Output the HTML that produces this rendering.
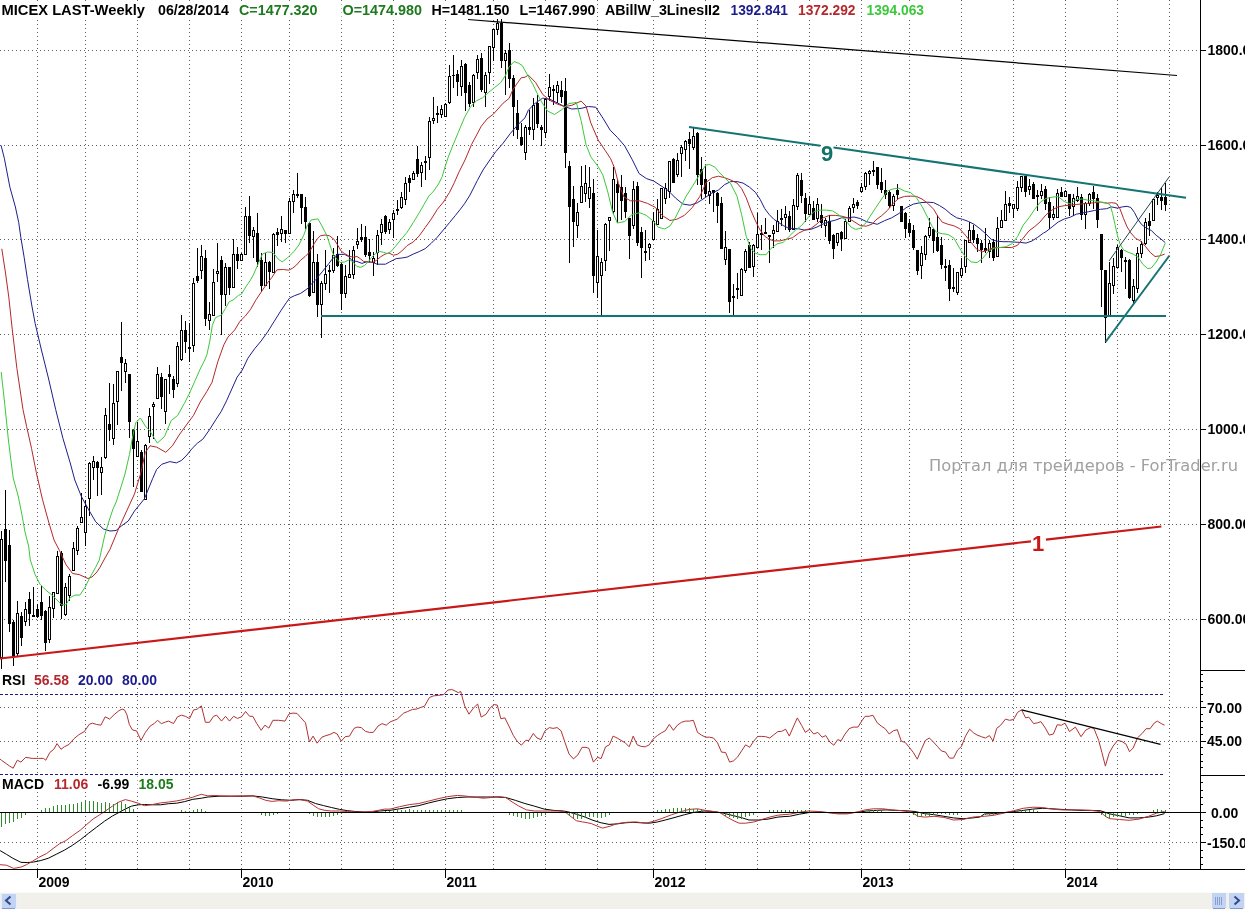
<!DOCTYPE html>
<html><head><meta charset="utf-8"><title>MICEX LAST-Weekly</title>
<style>html,body{margin:0;padding:0;background:#fff;overflow:hidden}body{width:1245px;height:909px}</style>
</head><body>
<svg width="1245" height="909" viewBox="0 0 1245 909" style="display:block">
<rect x="0" y="0" width="1245" height="909" fill="#ffffff"/>
<g shape-rendering="crispEdges">
<line x1="37.5" y1="0" x2="37.5" y2="869" stroke="#5f5f5f" stroke-width="1" stroke-dasharray="1 3"/>
<line x1="85.5" y1="0" x2="85.5" y2="869" stroke="#5f5f5f" stroke-width="1" stroke-dasharray="1 3"/>
<line x1="137.5" y1="0" x2="137.5" y2="869" stroke="#5f5f5f" stroke-width="1" stroke-dasharray="1 3"/>
<line x1="189.5" y1="0" x2="189.5" y2="869" stroke="#5f5f5f" stroke-width="1" stroke-dasharray="1 3"/>
<line x1="241.5" y1="0" x2="241.5" y2="869" stroke="#5f5f5f" stroke-width="1" stroke-dasharray="1 3"/>
<line x1="289.5" y1="0" x2="289.5" y2="869" stroke="#5f5f5f" stroke-width="1" stroke-dasharray="1 3"/>
<line x1="341.5" y1="0" x2="341.5" y2="869" stroke="#5f5f5f" stroke-width="1" stroke-dasharray="1 3"/>
<line x1="393.5" y1="0" x2="393.5" y2="869" stroke="#5f5f5f" stroke-width="1" stroke-dasharray="1 3"/>
<line x1="445.5" y1="0" x2="445.5" y2="869" stroke="#5f5f5f" stroke-width="1" stroke-dasharray="1 3"/>
<line x1="493.5" y1="0" x2="493.5" y2="869" stroke="#5f5f5f" stroke-width="1" stroke-dasharray="1 3"/>
<line x1="545.5" y1="0" x2="545.5" y2="869" stroke="#5f5f5f" stroke-width="1" stroke-dasharray="1 3"/>
<line x1="597.5" y1="0" x2="597.5" y2="869" stroke="#5f5f5f" stroke-width="1" stroke-dasharray="1 3"/>
<line x1="653.5" y1="0" x2="653.5" y2="869" stroke="#5f5f5f" stroke-width="1" stroke-dasharray="1 3"/>
<line x1="705.5" y1="0" x2="705.5" y2="869" stroke="#5f5f5f" stroke-width="1" stroke-dasharray="1 3"/>
<line x1="757.5" y1="0" x2="757.5" y2="869" stroke="#5f5f5f" stroke-width="1" stroke-dasharray="1 3"/>
<line x1="809.5" y1="0" x2="809.5" y2="869" stroke="#5f5f5f" stroke-width="1" stroke-dasharray="1 3"/>
<line x1="861.5" y1="0" x2="861.5" y2="869" stroke="#5f5f5f" stroke-width="1" stroke-dasharray="1 3"/>
<line x1="909.5" y1="0" x2="909.5" y2="869" stroke="#5f5f5f" stroke-width="1" stroke-dasharray="1 3"/>
<line x1="961.5" y1="0" x2="961.5" y2="869" stroke="#5f5f5f" stroke-width="1" stroke-dasharray="1 3"/>
<line x1="1013.5" y1="0" x2="1013.5" y2="869" stroke="#5f5f5f" stroke-width="1" stroke-dasharray="1 3"/>
<line x1="1065.5" y1="0" x2="1065.5" y2="869" stroke="#5f5f5f" stroke-width="1" stroke-dasharray="1 3"/>
<line x1="1117.5" y1="0" x2="1117.5" y2="869" stroke="#5f5f5f" stroke-width="1" stroke-dasharray="1 3"/>
<line x1="1169.5" y1="0" x2="1169.5" y2="869" stroke="#5f5f5f" stroke-width="1" stroke-dasharray="1 3"/>
<line x1="0" y1="50.5" x2="1200" y2="50.5" stroke="#5f5f5f" stroke-width="1" stroke-dasharray="1 3"/>
<line x1="0" y1="145.5" x2="1200" y2="145.5" stroke="#5f5f5f" stroke-width="1" stroke-dasharray="1 3"/>
<line x1="0" y1="239.5" x2="1200" y2="239.5" stroke="#5f5f5f" stroke-width="1" stroke-dasharray="1 3"/>
<line x1="0" y1="334.5" x2="1200" y2="334.5" stroke="#5f5f5f" stroke-width="1" stroke-dasharray="1 3"/>
<line x1="0" y1="429.5" x2="1200" y2="429.5" stroke="#5f5f5f" stroke-width="1" stroke-dasharray="1 3"/>
<line x1="0" y1="524.5" x2="1200" y2="524.5" stroke="#5f5f5f" stroke-width="1" stroke-dasharray="1 3"/>
<line x1="0" y1="619.5" x2="1200" y2="619.5" stroke="#5f5f5f" stroke-width="1" stroke-dasharray="1 3"/>
<line x1="0" y1="707.5" x2="1200" y2="707.5" stroke="#5f5f5f" stroke-width="1" stroke-dasharray="1 3"/>
<line x1="0" y1="741.5" x2="1200" y2="741.5" stroke="#5f5f5f" stroke-width="1" stroke-dasharray="1 3"/>
<line x1="0" y1="842.5" x2="1200" y2="842.5" stroke="#5f5f5f" stroke-width="1" stroke-dasharray="1 3"/>
<line x1="0" y1="694.5" x2="1164" y2="694.5" stroke="#1a1a80" stroke-width="1" stroke-dasharray="3 2"/>
<line x1="0" y1="774.5" x2="1164" y2="774.5" stroke="#1a1a80" stroke-width="1" stroke-dasharray="3 2"/>
</g>
<g shape-rendering="crispEdges" fill="#000">
<rect x="1" y="531" width="1" height="8"/>
<rect x="1" y="658" width="1" height="11"/>
<rect x="0" y="539" width="3" height="119"/>
<rect x="1" y="540" width="1" height="117" fill="#fff"/>
<rect x="5" y="490" width="1" height="92"/>
<rect x="4" y="529" width="3" height="32"/>
<rect x="9" y="530" width="1" height="102"/>
<rect x="8" y="545" width="3" height="79"/>
<rect x="13" y="620" width="1" height="46"/>
<rect x="12" y="622" width="3" height="35"/>
<rect x="17" y="601" width="1" height="12"/>
<rect x="17" y="654" width="1" height="3"/>
<rect x="16" y="613" width="3" height="41"/>
<rect x="17" y="614" width="1" height="39" fill="#fff"/>
<rect x="21" y="612" width="1" height="34"/>
<rect x="20" y="616" width="3" height="22"/>
<rect x="25" y="602" width="1" height="7"/>
<rect x="25" y="622" width="1" height="4"/>
<rect x="24" y="609" width="3" height="13"/>
<rect x="25" y="610" width="1" height="11" fill="#fff"/>
<rect x="29" y="592" width="1" height="34"/>
<rect x="28" y="599" width="3" height="15"/>
<rect x="33" y="587" width="1" height="30"/>
<rect x="32" y="615" width="3" height="2"/>
<rect x="37" y="604" width="1" height="14"/>
<rect x="36" y="609" width="3" height="8"/>
<rect x="41" y="586" width="1" height="34"/>
<rect x="40" y="602" width="3" height="14"/>
<rect x="45" y="610" width="1" height="41"/>
<rect x="44" y="611" width="3" height="32"/>
<rect x="49" y="596" width="1" height="11"/>
<rect x="49" y="640" width="1" height="3"/>
<rect x="48" y="607" width="3" height="33"/>
<rect x="49" y="608" width="1" height="31" fill="#fff"/>
<rect x="53" y="609" width="1" height="9"/>
<rect x="52" y="592" width="3" height="17"/>
<rect x="53" y="593" width="1" height="15" fill="#fff"/>
<rect x="57" y="551" width="1" height="5"/>
<rect x="56" y="556" width="3" height="38"/>
<rect x="57" y="557" width="1" height="36" fill="#fff"/>
<rect x="61" y="551" width="1" height="68"/>
<rect x="60" y="553" width="3" height="53"/>
<rect x="65" y="583" width="1" height="4"/>
<rect x="65" y="615" width="1" height="1"/>
<rect x="64" y="587" width="3" height="28"/>
<rect x="65" y="588" width="1" height="26" fill="#fff"/>
<rect x="69" y="574" width="1" height="2"/>
<rect x="69" y="596" width="1" height="5"/>
<rect x="68" y="576" width="3" height="20"/>
<rect x="69" y="577" width="1" height="18" fill="#fff"/>
<rect x="73" y="542" width="1" height="6"/>
<rect x="72" y="548" width="3" height="23"/>
<rect x="73" y="549" width="1" height="21" fill="#fff"/>
<rect x="77" y="526" width="1" height="2"/>
<rect x="77" y="551" width="1" height="4"/>
<rect x="76" y="528" width="3" height="23"/>
<rect x="77" y="529" width="1" height="21" fill="#fff"/>
<rect x="81" y="493" width="1" height="24"/>
<rect x="80" y="517" width="3" height="6"/>
<rect x="81" y="518" width="1" height="4" fill="#fff"/>
<rect x="85" y="500" width="1" height="6"/>
<rect x="85" y="533" width="1" height="13"/>
<rect x="84" y="506" width="3" height="27"/>
<rect x="85" y="507" width="1" height="25" fill="#fff"/>
<rect x="89" y="462" width="1" height="1"/>
<rect x="89" y="499" width="1" height="17"/>
<rect x="88" y="463" width="3" height="36"/>
<rect x="89" y="464" width="1" height="34" fill="#fff"/>
<rect x="93" y="456" width="1" height="5"/>
<rect x="93" y="468" width="1" height="12"/>
<rect x="92" y="461" width="3" height="7"/>
<rect x="93" y="462" width="1" height="5" fill="#fff"/>
<rect x="97" y="461" width="1" height="35"/>
<rect x="96" y="462" width="3" height="6"/>
<rect x="101" y="457" width="1" height="10"/>
<rect x="101" y="473" width="1" height="22"/>
<rect x="100" y="467" width="3" height="6"/>
<rect x="101" y="468" width="1" height="4" fill="#fff"/>
<rect x="105" y="408" width="1" height="7"/>
<rect x="105" y="458" width="1" height="1"/>
<rect x="104" y="415" width="3" height="43"/>
<rect x="105" y="416" width="1" height="41" fill="#fff"/>
<rect x="109" y="383" width="1" height="58"/>
<rect x="108" y="424" width="3" height="6"/>
<rect x="113" y="384" width="1" height="19"/>
<rect x="113" y="439" width="1" height="6"/>
<rect x="112" y="403" width="3" height="36"/>
<rect x="113" y="404" width="1" height="34" fill="#fff"/>
<rect x="117" y="402" width="1" height="23"/>
<rect x="116" y="371" width="3" height="31"/>
<rect x="117" y="372" width="1" height="29" fill="#fff"/>
<rect x="121" y="322" width="1" height="69"/>
<rect x="120" y="357" width="3" height="6"/>
<rect x="125" y="359" width="1" height="4"/>
<rect x="125" y="372" width="1" height="11"/>
<rect x="124" y="363" width="3" height="9"/>
<rect x="125" y="364" width="1" height="7" fill="#fff"/>
<rect x="129" y="374" width="1" height="64"/>
<rect x="128" y="374" width="3" height="48"/>
<rect x="133" y="429" width="1" height="58"/>
<rect x="132" y="430" width="3" height="19"/>
<rect x="137" y="422" width="1" height="19"/>
<rect x="136" y="441" width="3" height="16"/>
<rect x="137" y="442" width="1" height="14" fill="#fff"/>
<rect x="141" y="450" width="1" height="42"/>
<rect x="140" y="452" width="3" height="40"/>
<rect x="145" y="444" width="1" height="1"/>
<rect x="144" y="445" width="3" height="55"/>
<rect x="145" y="446" width="1" height="53" fill="#fff"/>
<rect x="149" y="408" width="1" height="8"/>
<rect x="149" y="437" width="1" height="6"/>
<rect x="148" y="416" width="3" height="21"/>
<rect x="149" y="417" width="1" height="19" fill="#fff"/>
<rect x="153" y="402" width="1" height="2"/>
<rect x="153" y="407" width="1" height="32"/>
<rect x="152" y="404" width="3" height="3"/>
<rect x="153" y="405" width="1" height="1" fill="#fff"/>
<rect x="157" y="367" width="1" height="7"/>
<rect x="156" y="374" width="3" height="25"/>
<rect x="157" y="375" width="1" height="23" fill="#fff"/>
<rect x="161" y="373" width="1" height="36"/>
<rect x="160" y="377" width="3" height="20"/>
<rect x="165" y="412" width="1" height="12"/>
<rect x="164" y="379" width="3" height="33"/>
<rect x="165" y="380" width="1" height="31" fill="#fff"/>
<rect x="169" y="365" width="1" height="29"/>
<rect x="168" y="374" width="3" height="3"/>
<rect x="173" y="376" width="1" height="22"/>
<rect x="172" y="379" width="3" height="11"/>
<rect x="177" y="342" width="1" height="4"/>
<rect x="177" y="384" width="1" height="3"/>
<rect x="176" y="346" width="3" height="38"/>
<rect x="177" y="347" width="1" height="36" fill="#fff"/>
<rect x="181" y="315" width="1" height="15"/>
<rect x="181" y="360" width="1" height="1"/>
<rect x="180" y="330" width="3" height="30"/>
<rect x="181" y="331" width="1" height="28" fill="#fff"/>
<rect x="185" y="321" width="1" height="32"/>
<rect x="184" y="330" width="3" height="12"/>
<rect x="189" y="323" width="1" height="39"/>
<rect x="188" y="347" width="3" height="2"/>
<rect x="193" y="278" width="1" height="5"/>
<rect x="193" y="346" width="1" height="6"/>
<rect x="192" y="283" width="3" height="63"/>
<rect x="193" y="284" width="1" height="61" fill="#fff"/>
<rect x="197" y="248" width="1" height="35"/>
<rect x="196" y="276" width="3" height="5"/>
<rect x="201" y="245" width="1" height="11"/>
<rect x="201" y="271" width="1" height="8"/>
<rect x="200" y="256" width="3" height="15"/>
<rect x="201" y="257" width="1" height="13" fill="#fff"/>
<rect x="205" y="250" width="1" height="76"/>
<rect x="204" y="258" width="3" height="61"/>
<rect x="209" y="302" width="1" height="12"/>
<rect x="209" y="321" width="1" height="9"/>
<rect x="208" y="314" width="3" height="7"/>
<rect x="209" y="315" width="1" height="5" fill="#fff"/>
<rect x="213" y="269" width="1" height="13"/>
<rect x="212" y="282" width="3" height="34"/>
<rect x="213" y="283" width="1" height="32" fill="#fff"/>
<rect x="217" y="243" width="1" height="28"/>
<rect x="217" y="274" width="1" height="8"/>
<rect x="216" y="271" width="3" height="3"/>
<rect x="217" y="272" width="1" height="1" fill="#fff"/>
<rect x="221" y="256" width="1" height="79"/>
<rect x="220" y="260" width="3" height="35"/>
<rect x="225" y="263" width="1" height="4"/>
<rect x="225" y="295" width="1" height="11"/>
<rect x="224" y="267" width="3" height="28"/>
<rect x="225" y="268" width="1" height="26" fill="#fff"/>
<rect x="229" y="267" width="1" height="28"/>
<rect x="228" y="267" width="3" height="21"/>
<rect x="233" y="239" width="1" height="15"/>
<rect x="232" y="254" width="3" height="34"/>
<rect x="233" y="255" width="1" height="32" fill="#fff"/>
<rect x="237" y="247" width="1" height="22"/>
<rect x="236" y="254" width="3" height="7"/>
<rect x="241" y="253" width="1" height="1"/>
<rect x="240" y="254" width="3" height="7"/>
<rect x="241" y="255" width="1" height="5" fill="#fff"/>
<rect x="245" y="207" width="1" height="9"/>
<rect x="244" y="216" width="3" height="39"/>
<rect x="245" y="217" width="1" height="37" fill="#fff"/>
<rect x="249" y="196" width="1" height="47"/>
<rect x="248" y="216" width="3" height="20"/>
<rect x="253" y="227" width="1" height="3"/>
<rect x="253" y="237" width="1" height="21"/>
<rect x="252" y="230" width="3" height="7"/>
<rect x="253" y="231" width="1" height="5" fill="#fff"/>
<rect x="257" y="213" width="1" height="54"/>
<rect x="256" y="233" width="3" height="29"/>
<rect x="261" y="253" width="1" height="39"/>
<rect x="260" y="260" width="3" height="26"/>
<rect x="265" y="253" width="1" height="9"/>
<rect x="264" y="262" width="3" height="24"/>
<rect x="265" y="263" width="1" height="22" fill="#fff"/>
<rect x="269" y="261" width="1" height="28"/>
<rect x="268" y="262" width="3" height="10"/>
<rect x="273" y="233" width="1" height="1"/>
<rect x="272" y="234" width="3" height="39"/>
<rect x="273" y="235" width="1" height="37" fill="#fff"/>
<rect x="277" y="228" width="1" height="18"/>
<rect x="276" y="232" width="3" height="3"/>
<rect x="281" y="216" width="1" height="13"/>
<rect x="281" y="234" width="1" height="8"/>
<rect x="280" y="229" width="3" height="5"/>
<rect x="281" y="230" width="1" height="3" fill="#fff"/>
<rect x="285" y="230" width="1" height="13"/>
<rect x="284" y="230" width="3" height="4"/>
<rect x="289" y="198" width="1" height="3"/>
<rect x="288" y="201" width="3" height="33"/>
<rect x="289" y="202" width="1" height="31" fill="#fff"/>
<rect x="293" y="190" width="1" height="4"/>
<rect x="293" y="202" width="1" height="11"/>
<rect x="292" y="194" width="3" height="8"/>
<rect x="293" y="195" width="1" height="6" fill="#fff"/>
<rect x="297" y="173" width="1" height="25"/>
<rect x="296" y="194" width="3" height="2"/>
<rect x="301" y="194" width="1" height="30"/>
<rect x="300" y="194" width="3" height="14"/>
<rect x="305" y="197" width="1" height="32"/>
<rect x="304" y="207" width="3" height="15"/>
<rect x="309" y="222" width="1" height="75"/>
<rect x="308" y="223" width="3" height="73"/>
<rect x="313" y="231" width="1" height="31"/>
<rect x="312" y="262" width="3" height="31"/>
<rect x="313" y="263" width="1" height="29" fill="#fff"/>
<rect x="317" y="254" width="1" height="63"/>
<rect x="316" y="262" width="3" height="43"/>
<rect x="321" y="281" width="1" height="2"/>
<rect x="321" y="305" width="1" height="33"/>
<rect x="320" y="283" width="3" height="22"/>
<rect x="321" y="284" width="1" height="20" fill="#fff"/>
<rect x="325" y="250" width="1" height="24"/>
<rect x="325" y="284" width="1" height="6"/>
<rect x="324" y="274" width="3" height="10"/>
<rect x="325" y="275" width="1" height="8" fill="#fff"/>
<rect x="329" y="265" width="1" height="28"/>
<rect x="328" y="270" width="3" height="2"/>
<rect x="333" y="248" width="1" height="7"/>
<rect x="333" y="271" width="1" height="2"/>
<rect x="332" y="255" width="3" height="16"/>
<rect x="333" y="256" width="1" height="14" fill="#fff"/>
<rect x="337" y="236" width="1" height="31"/>
<rect x="336" y="254" width="3" height="12"/>
<rect x="341" y="262" width="1" height="48"/>
<rect x="340" y="264" width="3" height="30"/>
<rect x="345" y="265" width="1" height="11"/>
<rect x="345" y="294" width="1" height="4"/>
<rect x="344" y="276" width="3" height="18"/>
<rect x="345" y="277" width="1" height="16" fill="#fff"/>
<rect x="349" y="250" width="1" height="24"/>
<rect x="348" y="274" width="3" height="4"/>
<rect x="349" y="275" width="1" height="2" fill="#fff"/>
<rect x="353" y="246" width="1" height="4"/>
<rect x="353" y="275" width="1" height="4"/>
<rect x="352" y="250" width="3" height="25"/>
<rect x="353" y="251" width="1" height="23" fill="#fff"/>
<rect x="357" y="228" width="1" height="13"/>
<rect x="357" y="245" width="1" height="4"/>
<rect x="356" y="241" width="3" height="4"/>
<rect x="357" y="242" width="1" height="2" fill="#fff"/>
<rect x="361" y="224" width="1" height="18"/>
<rect x="360" y="237" width="3" height="3"/>
<rect x="365" y="226" width="1" height="31"/>
<rect x="364" y="237" width="3" height="18"/>
<rect x="369" y="239" width="1" height="23"/>
<rect x="368" y="252" width="3" height="4"/>
<rect x="373" y="252" width="1" height="6"/>
<rect x="373" y="263" width="1" height="13"/>
<rect x="372" y="258" width="3" height="5"/>
<rect x="373" y="259" width="1" height="3" fill="#fff"/>
<rect x="377" y="230" width="1" height="5"/>
<rect x="377" y="253" width="1" height="12"/>
<rect x="376" y="235" width="3" height="18"/>
<rect x="377" y="236" width="1" height="16" fill="#fff"/>
<rect x="381" y="219" width="1" height="5"/>
<rect x="381" y="233" width="1" height="12"/>
<rect x="380" y="224" width="3" height="9"/>
<rect x="381" y="225" width="1" height="7" fill="#fff"/>
<rect x="385" y="215" width="1" height="19"/>
<rect x="384" y="216" width="3" height="16"/>
<rect x="389" y="219" width="1" height="3"/>
<rect x="389" y="230" width="1" height="4"/>
<rect x="388" y="222" width="3" height="8"/>
<rect x="389" y="223" width="1" height="6" fill="#fff"/>
<rect x="393" y="210" width="1" height="3"/>
<rect x="393" y="220" width="1" height="18"/>
<rect x="392" y="213" width="3" height="7"/>
<rect x="393" y="214" width="1" height="5" fill="#fff"/>
<rect x="397" y="200" width="1" height="15"/>
<rect x="396" y="209" width="3" height="2"/>
<rect x="401" y="192" width="1" height="5"/>
<rect x="401" y="208" width="1" height="1"/>
<rect x="400" y="197" width="3" height="11"/>
<rect x="401" y="198" width="1" height="9" fill="#fff"/>
<rect x="405" y="177" width="1" height="6"/>
<rect x="405" y="200" width="1" height="5"/>
<rect x="404" y="183" width="3" height="17"/>
<rect x="405" y="184" width="1" height="15" fill="#fff"/>
<rect x="409" y="175" width="1" height="17"/>
<rect x="408" y="178" width="3" height="5"/>
<rect x="413" y="171" width="1" height="2"/>
<rect x="412" y="173" width="3" height="7"/>
<rect x="413" y="174" width="1" height="5" fill="#fff"/>
<rect x="417" y="146" width="1" height="31"/>
<rect x="416" y="159" width="3" height="15"/>
<rect x="421" y="162" width="1" height="3"/>
<rect x="421" y="173" width="1" height="14"/>
<rect x="420" y="165" width="3" height="8"/>
<rect x="421" y="166" width="1" height="6" fill="#fff"/>
<rect x="425" y="156" width="1" height="24"/>
<rect x="424" y="161" width="3" height="2"/>
<rect x="429" y="117" width="1" height="4"/>
<rect x="429" y="158" width="1" height="12"/>
<rect x="428" y="121" width="3" height="37"/>
<rect x="429" y="122" width="1" height="35" fill="#fff"/>
<rect x="433" y="97" width="1" height="21"/>
<rect x="433" y="121" width="1" height="3"/>
<rect x="432" y="118" width="3" height="3"/>
<rect x="433" y="119" width="1" height="1" fill="#fff"/>
<rect x="437" y="106" width="1" height="17"/>
<rect x="436" y="113" width="3" height="2"/>
<rect x="441" y="105" width="1" height="4"/>
<rect x="441" y="115" width="1" height="3"/>
<rect x="440" y="109" width="3" height="6"/>
<rect x="441" y="110" width="1" height="4" fill="#fff"/>
<rect x="445" y="103" width="1" height="1"/>
<rect x="444" y="104" width="3" height="13"/>
<rect x="445" y="105" width="1" height="11" fill="#fff"/>
<rect x="449" y="65" width="1" height="11"/>
<rect x="449" y="103" width="1" height="1"/>
<rect x="448" y="76" width="3" height="27"/>
<rect x="449" y="77" width="1" height="25" fill="#fff"/>
<rect x="453" y="55" width="1" height="33"/>
<rect x="452" y="75" width="3" height="1"/>
<rect x="457" y="70" width="1" height="26"/>
<rect x="456" y="74" width="3" height="8"/>
<rect x="461" y="60" width="1" height="6"/>
<rect x="461" y="87" width="1" height="9"/>
<rect x="460" y="66" width="3" height="21"/>
<rect x="461" y="67" width="1" height="19" fill="#fff"/>
<rect x="465" y="63" width="1" height="48"/>
<rect x="464" y="64" width="3" height="29"/>
<rect x="469" y="82" width="1" height="25"/>
<rect x="468" y="85" width="3" height="19"/>
<rect x="473" y="74" width="1" height="1"/>
<rect x="473" y="103" width="1" height="4"/>
<rect x="472" y="75" width="3" height="28"/>
<rect x="473" y="76" width="1" height="26" fill="#fff"/>
<rect x="477" y="55" width="1" height="4"/>
<rect x="477" y="73" width="1" height="6"/>
<rect x="476" y="59" width="3" height="14"/>
<rect x="477" y="60" width="1" height="12" fill="#fff"/>
<rect x="481" y="53" width="1" height="39"/>
<rect x="480" y="58" width="3" height="32"/>
<rect x="485" y="72" width="1" height="3"/>
<rect x="485" y="93" width="1" height="14"/>
<rect x="484" y="75" width="3" height="18"/>
<rect x="485" y="76" width="1" height="16" fill="#fff"/>
<rect x="489" y="73" width="1" height="11"/>
<rect x="488" y="46" width="3" height="27"/>
<rect x="489" y="47" width="1" height="25" fill="#fff"/>
<rect x="493" y="48" width="1" height="13"/>
<rect x="492" y="29" width="3" height="19"/>
<rect x="493" y="30" width="1" height="17" fill="#fff"/>
<rect x="497" y="19" width="1" height="4"/>
<rect x="497" y="30" width="1" height="5"/>
<rect x="496" y="23" width="3" height="7"/>
<rect x="497" y="24" width="1" height="5" fill="#fff"/>
<rect x="501" y="19" width="1" height="49"/>
<rect x="500" y="23" width="3" height="38"/>
<rect x="505" y="50" width="1" height="3"/>
<rect x="505" y="61" width="1" height="34"/>
<rect x="504" y="53" width="3" height="8"/>
<rect x="505" y="54" width="1" height="6" fill="#fff"/>
<rect x="509" y="43" width="1" height="45"/>
<rect x="508" y="50" width="3" height="29"/>
<rect x="513" y="75" width="1" height="61"/>
<rect x="512" y="78" width="3" height="29"/>
<rect x="517" y="100" width="1" height="39"/>
<rect x="516" y="113" width="3" height="17"/>
<rect x="521" y="123" width="1" height="23"/>
<rect x="520" y="137" width="3" height="8"/>
<rect x="525" y="125" width="1" height="2"/>
<rect x="525" y="153" width="1" height="7"/>
<rect x="524" y="127" width="3" height="26"/>
<rect x="525" y="128" width="1" height="24" fill="#fff"/>
<rect x="529" y="110" width="1" height="25"/>
<rect x="528" y="127" width="3" height="3"/>
<rect x="533" y="98" width="1" height="7"/>
<rect x="533" y="130" width="1" height="10"/>
<rect x="532" y="105" width="3" height="25"/>
<rect x="533" y="106" width="1" height="23" fill="#fff"/>
<rect x="537" y="95" width="1" height="33"/>
<rect x="536" y="103" width="3" height="21"/>
<rect x="541" y="125" width="1" height="21"/>
<rect x="540" y="127" width="3" height="3"/>
<rect x="545" y="98" width="1" height="1"/>
<rect x="545" y="133" width="1" height="5"/>
<rect x="544" y="99" width="3" height="34"/>
<rect x="545" y="100" width="1" height="32" fill="#fff"/>
<rect x="549" y="74" width="1" height="13"/>
<rect x="549" y="97" width="1" height="4"/>
<rect x="548" y="87" width="3" height="10"/>
<rect x="549" y="88" width="1" height="8" fill="#fff"/>
<rect x="553" y="85" width="1" height="20"/>
<rect x="552" y="89" width="3" height="2"/>
<rect x="557" y="81" width="1" height="4"/>
<rect x="557" y="93" width="1" height="10"/>
<rect x="556" y="85" width="3" height="8"/>
<rect x="557" y="86" width="1" height="6" fill="#fff"/>
<rect x="561" y="81" width="1" height="22"/>
<rect x="560" y="90" width="3" height="7"/>
<rect x="565" y="78" width="1" height="90"/>
<rect x="564" y="91" width="3" height="62"/>
<rect x="569" y="161" width="1" height="102"/>
<rect x="568" y="166" width="3" height="41"/>
<rect x="573" y="186" width="1" height="61"/>
<rect x="572" y="199" width="3" height="23"/>
<rect x="577" y="203" width="1" height="9"/>
<rect x="577" y="226" width="1" height="12"/>
<rect x="576" y="212" width="3" height="14"/>
<rect x="577" y="213" width="1" height="12" fill="#fff"/>
<rect x="581" y="166" width="1" height="20"/>
<rect x="580" y="186" width="3" height="17"/>
<rect x="581" y="187" width="1" height="15" fill="#fff"/>
<rect x="585" y="165" width="1" height="18"/>
<rect x="585" y="194" width="1" height="8"/>
<rect x="584" y="183" width="3" height="11"/>
<rect x="585" y="184" width="1" height="9" fill="#fff"/>
<rect x="589" y="167" width="1" height="20"/>
<rect x="589" y="199" width="1" height="9"/>
<rect x="588" y="187" width="3" height="12"/>
<rect x="589" y="188" width="1" height="10" fill="#fff"/>
<rect x="593" y="179" width="1" height="114"/>
<rect x="592" y="193" width="3" height="83"/>
<rect x="597" y="230" width="1" height="26"/>
<rect x="597" y="283" width="1" height="15"/>
<rect x="596" y="256" width="3" height="27"/>
<rect x="597" y="257" width="1" height="25" fill="#fff"/>
<rect x="601" y="258" width="1" height="4"/>
<rect x="601" y="276" width="1" height="41"/>
<rect x="600" y="262" width="3" height="14"/>
<rect x="601" y="263" width="1" height="12" fill="#fff"/>
<rect x="605" y="223" width="1" height="1"/>
<rect x="605" y="261" width="1" height="10"/>
<rect x="604" y="224" width="3" height="37"/>
<rect x="605" y="225" width="1" height="35" fill="#fff"/>
<rect x="609" y="221" width="1" height="30"/>
<rect x="608" y="217" width="3" height="4"/>
<rect x="609" y="218" width="1" height="2" fill="#fff"/>
<rect x="613" y="167" width="1" height="12"/>
<rect x="613" y="212" width="1" height="2"/>
<rect x="612" y="179" width="3" height="33"/>
<rect x="613" y="180" width="1" height="31" fill="#fff"/>
<rect x="617" y="180" width="1" height="43"/>
<rect x="616" y="184" width="3" height="9"/>
<rect x="621" y="175" width="1" height="45"/>
<rect x="620" y="187" width="3" height="14"/>
<rect x="625" y="187" width="1" height="31"/>
<rect x="624" y="193" width="3" height="19"/>
<rect x="629" y="218" width="1" height="41"/>
<rect x="628" y="218" width="3" height="18"/>
<rect x="633" y="181" width="1" height="8"/>
<rect x="633" y="226" width="1" height="3"/>
<rect x="632" y="189" width="3" height="37"/>
<rect x="633" y="190" width="1" height="35" fill="#fff"/>
<rect x="637" y="182" width="1" height="64"/>
<rect x="636" y="186" width="3" height="57"/>
<rect x="641" y="227" width="1" height="51"/>
<rect x="640" y="232" width="3" height="16"/>
<rect x="645" y="230" width="1" height="31"/>
<rect x="644" y="251" width="3" height="2"/>
<rect x="649" y="243" width="1" height="1"/>
<rect x="649" y="248" width="1" height="12"/>
<rect x="648" y="244" width="3" height="4"/>
<rect x="649" y="245" width="1" height="2" fill="#fff"/>
<rect x="653" y="212" width="1" height="9"/>
<rect x="652" y="221" width="3" height="19"/>
<rect x="653" y="222" width="1" height="17" fill="#fff"/>
<rect x="657" y="199" width="1" height="10"/>
<rect x="656" y="209" width="3" height="16"/>
<rect x="657" y="210" width="1" height="14" fill="#fff"/>
<rect x="660" y="188" width="3" height="31"/>
<rect x="661" y="189" width="1" height="29" fill="#fff"/>
<rect x="665" y="183" width="1" height="5"/>
<rect x="665" y="199" width="1" height="5"/>
<rect x="664" y="188" width="3" height="11"/>
<rect x="665" y="189" width="1" height="9" fill="#fff"/>
<rect x="669" y="192" width="1" height="6"/>
<rect x="668" y="161" width="3" height="31"/>
<rect x="669" y="162" width="1" height="29" fill="#fff"/>
<rect x="673" y="158" width="1" height="25"/>
<rect x="672" y="159" width="3" height="24"/>
<rect x="677" y="153" width="1" height="7"/>
<rect x="677" y="175" width="1" height="2"/>
<rect x="676" y="160" width="3" height="15"/>
<rect x="677" y="161" width="1" height="13" fill="#fff"/>
<rect x="681" y="145" width="1" height="2"/>
<rect x="681" y="154" width="1" height="23"/>
<rect x="680" y="147" width="3" height="7"/>
<rect x="681" y="148" width="1" height="5" fill="#fff"/>
<rect x="685" y="140" width="1" height="1"/>
<rect x="685" y="150" width="1" height="11"/>
<rect x="684" y="141" width="3" height="9"/>
<rect x="685" y="142" width="1" height="7" fill="#fff"/>
<rect x="689" y="132" width="1" height="37"/>
<rect x="688" y="139" width="3" height="5"/>
<rect x="693" y="128" width="1" height="8"/>
<rect x="693" y="148" width="1" height="2"/>
<rect x="692" y="136" width="3" height="12"/>
<rect x="693" y="137" width="1" height="10" fill="#fff"/>
<rect x="697" y="132" width="1" height="53"/>
<rect x="696" y="133" width="3" height="42"/>
<rect x="701" y="157" width="1" height="42"/>
<rect x="700" y="169" width="3" height="16"/>
<rect x="705" y="165" width="1" height="32"/>
<rect x="704" y="179" width="3" height="15"/>
<rect x="709" y="182" width="1" height="9"/>
<rect x="709" y="196" width="1" height="8"/>
<rect x="708" y="191" width="3" height="5"/>
<rect x="709" y="192" width="1" height="3" fill="#fff"/>
<rect x="713" y="190" width="1" height="22"/>
<rect x="712" y="190" width="3" height="3"/>
<rect x="717" y="192" width="1" height="31"/>
<rect x="716" y="193" width="3" height="13"/>
<rect x="721" y="197" width="1" height="52"/>
<rect x="720" y="203" width="3" height="46"/>
<rect x="725" y="231" width="1" height="16"/>
<rect x="725" y="260" width="1" height="5"/>
<rect x="724" y="247" width="3" height="13"/>
<rect x="725" y="248" width="1" height="11" fill="#fff"/>
<rect x="729" y="249" width="1" height="64"/>
<rect x="728" y="249" width="3" height="53"/>
<rect x="733" y="284" width="1" height="33"/>
<rect x="732" y="296" width="3" height="2"/>
<rect x="737" y="273" width="1" height="26"/>
<rect x="736" y="288" width="3" height="2"/>
<rect x="741" y="268" width="1" height="1"/>
<rect x="740" y="269" width="3" height="27"/>
<rect x="741" y="270" width="1" height="25" fill="#fff"/>
<rect x="745" y="249" width="1" height="2"/>
<rect x="745" y="271" width="1" height="2"/>
<rect x="744" y="251" width="3" height="20"/>
<rect x="745" y="252" width="1" height="18" fill="#fff"/>
<rect x="749" y="242" width="1" height="26"/>
<rect x="748" y="245" width="3" height="23"/>
<rect x="753" y="244" width="1" height="1"/>
<rect x="753" y="267" width="1" height="10"/>
<rect x="752" y="245" width="3" height="22"/>
<rect x="753" y="246" width="1" height="20" fill="#fff"/>
<rect x="757" y="213" width="1" height="21"/>
<rect x="756" y="234" width="3" height="14"/>
<rect x="757" y="235" width="1" height="12" fill="#fff"/>
<rect x="761" y="225" width="1" height="25"/>
<rect x="760" y="233" width="3" height="2"/>
<rect x="765" y="218" width="1" height="16"/>
<rect x="764" y="232" width="3" height="2"/>
<rect x="769" y="235" width="1" height="28"/>
<rect x="768" y="235" width="3" height="2"/>
<rect x="773" y="225" width="1" height="5"/>
<rect x="773" y="234" width="1" height="14"/>
<rect x="772" y="230" width="3" height="4"/>
<rect x="773" y="231" width="1" height="2" fill="#fff"/>
<rect x="777" y="210" width="1" height="11"/>
<rect x="776" y="221" width="3" height="11"/>
<rect x="777" y="222" width="1" height="9" fill="#fff"/>
<rect x="781" y="209" width="1" height="17"/>
<rect x="780" y="218" width="3" height="2"/>
<rect x="785" y="206" width="1" height="8"/>
<rect x="785" y="218" width="1" height="12"/>
<rect x="784" y="214" width="3" height="4"/>
<rect x="785" y="215" width="1" height="2" fill="#fff"/>
<rect x="789" y="211" width="1" height="21"/>
<rect x="788" y="216" width="3" height="14"/>
<rect x="793" y="199" width="1" height="6"/>
<rect x="792" y="205" width="3" height="25"/>
<rect x="793" y="206" width="1" height="23" fill="#fff"/>
<rect x="797" y="173" width="1" height="2"/>
<rect x="797" y="207" width="1" height="3"/>
<rect x="796" y="175" width="3" height="32"/>
<rect x="797" y="176" width="1" height="30" fill="#fff"/>
<rect x="801" y="173" width="1" height="30"/>
<rect x="800" y="180" width="3" height="16"/>
<rect x="805" y="193" width="1" height="29"/>
<rect x="804" y="198" width="3" height="16"/>
<rect x="809" y="196" width="1" height="8"/>
<rect x="808" y="204" width="3" height="11"/>
<rect x="809" y="205" width="1" height="9" fill="#fff"/>
<rect x="813" y="201" width="1" height="19"/>
<rect x="812" y="208" width="3" height="12"/>
<rect x="817" y="198" width="1" height="6"/>
<rect x="817" y="219" width="1" height="3"/>
<rect x="816" y="204" width="3" height="15"/>
<rect x="817" y="205" width="1" height="13" fill="#fff"/>
<rect x="821" y="204" width="1" height="24"/>
<rect x="820" y="215" width="3" height="8"/>
<rect x="825" y="218" width="1" height="2"/>
<rect x="825" y="226" width="1" height="11"/>
<rect x="824" y="220" width="3" height="6"/>
<rect x="825" y="221" width="1" height="4" fill="#fff"/>
<rect x="829" y="215" width="1" height="29"/>
<rect x="828" y="221" width="3" height="20"/>
<rect x="833" y="234" width="1" height="25"/>
<rect x="832" y="235" width="3" height="14"/>
<rect x="837" y="243" width="1" height="3"/>
<rect x="836" y="233" width="3" height="10"/>
<rect x="837" y="234" width="1" height="8" fill="#fff"/>
<rect x="841" y="231" width="1" height="20"/>
<rect x="840" y="232" width="3" height="7"/>
<rect x="845" y="219" width="1" height="2"/>
<rect x="844" y="221" width="3" height="18"/>
<rect x="845" y="222" width="1" height="16" fill="#fff"/>
<rect x="849" y="206" width="1" height="2"/>
<rect x="848" y="208" width="3" height="14"/>
<rect x="849" y="209" width="1" height="12" fill="#fff"/>
<rect x="853" y="198" width="1" height="6"/>
<rect x="853" y="208" width="1" height="5"/>
<rect x="852" y="204" width="3" height="4"/>
<rect x="853" y="205" width="1" height="2" fill="#fff"/>
<rect x="857" y="200" width="1" height="9"/>
<rect x="856" y="202" width="3" height="4"/>
<rect x="861" y="183" width="1" height="4"/>
<rect x="861" y="192" width="1" height="1"/>
<rect x="860" y="187" width="3" height="5"/>
<rect x="861" y="188" width="1" height="3" fill="#fff"/>
<rect x="865" y="172" width="1" height="1"/>
<rect x="865" y="187" width="1" height="3"/>
<rect x="864" y="173" width="3" height="14"/>
<rect x="865" y="174" width="1" height="12" fill="#fff"/>
<rect x="869" y="170" width="1" height="1"/>
<rect x="869" y="174" width="1" height="11"/>
<rect x="868" y="171" width="3" height="3"/>
<rect x="869" y="172" width="1" height="1" fill="#fff"/>
<rect x="873" y="161" width="1" height="15"/>
<rect x="872" y="170" width="3" height="2"/>
<rect x="877" y="167" width="1" height="22"/>
<rect x="876" y="167" width="3" height="18"/>
<rect x="881" y="168" width="1" height="25"/>
<rect x="880" y="182" width="3" height="8"/>
<rect x="885" y="180" width="1" height="19"/>
<rect x="884" y="190" width="3" height="5"/>
<rect x="889" y="190" width="1" height="18"/>
<rect x="888" y="192" width="3" height="14"/>
<rect x="893" y="194" width="1" height="2"/>
<rect x="893" y="206" width="1" height="5"/>
<rect x="892" y="196" width="3" height="10"/>
<rect x="893" y="197" width="1" height="8" fill="#fff"/>
<rect x="897" y="184" width="1" height="15"/>
<rect x="896" y="190" width="3" height="5"/>
<rect x="901" y="206" width="1" height="16"/>
<rect x="900" y="206" width="3" height="16"/>
<rect x="905" y="212" width="1" height="26"/>
<rect x="904" y="213" width="3" height="16"/>
<rect x="909" y="219" width="1" height="18"/>
<rect x="908" y="223" width="3" height="10"/>
<rect x="913" y="225" width="1" height="25"/>
<rect x="912" y="230" width="3" height="18"/>
<rect x="917" y="250" width="1" height="25"/>
<rect x="916" y="250" width="3" height="21"/>
<rect x="921" y="246" width="1" height="7"/>
<rect x="921" y="266" width="1" height="13"/>
<rect x="920" y="253" width="3" height="13"/>
<rect x="921" y="254" width="1" height="11" fill="#fff"/>
<rect x="925" y="235" width="1" height="1"/>
<rect x="925" y="255" width="1" height="5"/>
<rect x="924" y="236" width="3" height="19"/>
<rect x="925" y="237" width="1" height="17" fill="#fff"/>
<rect x="929" y="218" width="1" height="9"/>
<rect x="929" y="236" width="1" height="2"/>
<rect x="928" y="227" width="3" height="9"/>
<rect x="929" y="228" width="1" height="7" fill="#fff"/>
<rect x="933" y="228" width="1" height="25"/>
<rect x="932" y="229" width="3" height="12"/>
<rect x="937" y="215" width="1" height="37"/>
<rect x="936" y="237" width="3" height="14"/>
<rect x="941" y="237" width="1" height="32"/>
<rect x="940" y="245" width="3" height="20"/>
<rect x="945" y="259" width="1" height="22"/>
<rect x="944" y="266" width="3" height="2"/>
<rect x="949" y="260" width="1" height="41"/>
<rect x="948" y="265" width="3" height="24"/>
<rect x="953" y="268" width="1" height="24"/>
<rect x="952" y="287" width="3" height="2"/>
<rect x="957" y="293" width="1" height="2"/>
<rect x="956" y="272" width="3" height="21"/>
<rect x="957" y="273" width="1" height="19" fill="#fff"/>
<rect x="961" y="258" width="1" height="10"/>
<rect x="961" y="276" width="1" height="2"/>
<rect x="960" y="268" width="3" height="8"/>
<rect x="961" y="269" width="1" height="6" fill="#fff"/>
<rect x="965" y="267" width="1" height="6"/>
<rect x="964" y="240" width="3" height="27"/>
<rect x="965" y="241" width="1" height="25" fill="#fff"/>
<rect x="969" y="222" width="1" height="8"/>
<rect x="968" y="230" width="3" height="13"/>
<rect x="969" y="231" width="1" height="11" fill="#fff"/>
<rect x="973" y="225" width="1" height="18"/>
<rect x="972" y="230" width="3" height="10"/>
<rect x="977" y="234" width="1" height="18"/>
<rect x="976" y="238" width="3" height="6"/>
<rect x="981" y="240" width="1" height="23"/>
<rect x="980" y="243" width="3" height="7"/>
<rect x="985" y="228" width="1" height="25"/>
<rect x="984" y="248" width="3" height="3"/>
<rect x="989" y="240" width="1" height="3"/>
<rect x="989" y="252" width="1" height="6"/>
<rect x="988" y="243" width="3" height="9"/>
<rect x="989" y="244" width="1" height="7" fill="#fff"/>
<rect x="993" y="239" width="1" height="22"/>
<rect x="992" y="242" width="3" height="16"/>
<rect x="997" y="217" width="1" height="11"/>
<rect x="996" y="228" width="3" height="29"/>
<rect x="997" y="229" width="1" height="27" fill="#fff"/>
<rect x="1001" y="210" width="1" height="10"/>
<rect x="1000" y="220" width="3" height="8"/>
<rect x="1001" y="221" width="1" height="6" fill="#fff"/>
<rect x="1005" y="191" width="1" height="13"/>
<rect x="1004" y="204" width="3" height="17"/>
<rect x="1005" y="205" width="1" height="15" fill="#fff"/>
<rect x="1009" y="197" width="1" height="16"/>
<rect x="1008" y="203" width="3" height="3"/>
<rect x="1013" y="209" width="1" height="9"/>
<rect x="1012" y="204" width="3" height="5"/>
<rect x="1013" y="205" width="1" height="3" fill="#fff"/>
<rect x="1017" y="181" width="1" height="6"/>
<rect x="1017" y="209" width="1" height="2"/>
<rect x="1016" y="187" width="3" height="22"/>
<rect x="1017" y="188" width="1" height="20" fill="#fff"/>
<rect x="1021" y="188" width="1" height="4"/>
<rect x="1020" y="176" width="3" height="12"/>
<rect x="1021" y="177" width="1" height="10" fill="#fff"/>
<rect x="1025" y="176" width="1" height="21"/>
<rect x="1024" y="176" width="3" height="16"/>
<rect x="1029" y="179" width="1" height="7"/>
<rect x="1029" y="190" width="1" height="5"/>
<rect x="1028" y="186" width="3" height="4"/>
<rect x="1029" y="187" width="1" height="2" fill="#fff"/>
<rect x="1033" y="182" width="1" height="17"/>
<rect x="1032" y="184" width="3" height="15"/>
<rect x="1037" y="190" width="1" height="21"/>
<rect x="1036" y="195" width="3" height="2"/>
<rect x="1041" y="184" width="1" height="7"/>
<rect x="1041" y="196" width="1" height="3"/>
<rect x="1040" y="191" width="3" height="5"/>
<rect x="1041" y="192" width="1" height="3" fill="#fff"/>
<rect x="1045" y="186" width="1" height="24"/>
<rect x="1044" y="189" width="3" height="15"/>
<rect x="1049" y="197" width="1" height="32"/>
<rect x="1048" y="202" width="3" height="16"/>
<rect x="1053" y="206" width="1" height="8"/>
<rect x="1053" y="218" width="1" height="2"/>
<rect x="1052" y="214" width="3" height="4"/>
<rect x="1053" y="215" width="1" height="2" fill="#fff"/>
<rect x="1057" y="189" width="1" height="4"/>
<rect x="1056" y="193" width="3" height="25"/>
<rect x="1057" y="194" width="1" height="23" fill="#fff"/>
<rect x="1061" y="187" width="1" height="10"/>
<rect x="1060" y="192" width="3" height="5"/>
<rect x="1065" y="190" width="1" height="1"/>
<rect x="1064" y="191" width="3" height="6"/>
<rect x="1065" y="192" width="1" height="4" fill="#fff"/>
<rect x="1069" y="194" width="1" height="22"/>
<rect x="1068" y="194" width="3" height="15"/>
<rect x="1073" y="194" width="1" height="4"/>
<rect x="1073" y="207" width="1" height="9"/>
<rect x="1072" y="198" width="3" height="9"/>
<rect x="1073" y="199" width="1" height="7" fill="#fff"/>
<rect x="1077" y="187" width="1" height="9"/>
<rect x="1077" y="201" width="1" height="1"/>
<rect x="1076" y="196" width="3" height="5"/>
<rect x="1077" y="197" width="1" height="3" fill="#fff"/>
<rect x="1081" y="194" width="1" height="26"/>
<rect x="1080" y="197" width="3" height="18"/>
<rect x="1085" y="202" width="1" height="1"/>
<rect x="1085" y="215" width="1" height="14"/>
<rect x="1084" y="203" width="3" height="12"/>
<rect x="1085" y="204" width="1" height="10" fill="#fff"/>
<rect x="1089" y="193" width="1" height="1"/>
<rect x="1089" y="204" width="1" height="2"/>
<rect x="1088" y="194" width="3" height="10"/>
<rect x="1089" y="195" width="1" height="8" fill="#fff"/>
<rect x="1093" y="186" width="1" height="23"/>
<rect x="1092" y="192" width="3" height="7"/>
<rect x="1097" y="194" width="1" height="34"/>
<rect x="1096" y="198" width="3" height="22"/>
<rect x="1101" y="234" width="1" height="73"/>
<rect x="1100" y="234" width="3" height="36"/>
<rect x="1105" y="270" width="1" height="73"/>
<rect x="1104" y="270" width="3" height="48"/>
<rect x="1109" y="262" width="1" height="21"/>
<rect x="1109" y="316" width="1" height="1"/>
<rect x="1108" y="283" width="3" height="33"/>
<rect x="1109" y="284" width="1" height="31" fill="#fff"/>
<rect x="1113" y="258" width="1" height="8"/>
<rect x="1113" y="286" width="1" height="8"/>
<rect x="1112" y="266" width="3" height="20"/>
<rect x="1113" y="267" width="1" height="18" fill="#fff"/>
<rect x="1117" y="245" width="1" height="2"/>
<rect x="1116" y="247" width="3" height="21"/>
<rect x="1117" y="248" width="1" height="19" fill="#fff"/>
<rect x="1121" y="249" width="1" height="23"/>
<rect x="1120" y="250" width="3" height="8"/>
<rect x="1125" y="257" width="1" height="32"/>
<rect x="1124" y="260" width="3" height="2"/>
<rect x="1129" y="259" width="1" height="40"/>
<rect x="1128" y="260" width="3" height="38"/>
<rect x="1133" y="279" width="1" height="7"/>
<rect x="1133" y="301" width="1" height="2"/>
<rect x="1132" y="286" width="3" height="15"/>
<rect x="1133" y="287" width="1" height="13" fill="#fff"/>
<rect x="1137" y="247" width="1" height="6"/>
<rect x="1137" y="289" width="1" height="4"/>
<rect x="1136" y="253" width="3" height="36"/>
<rect x="1137" y="254" width="1" height="34" fill="#fff"/>
<rect x="1141" y="241" width="1" height="3"/>
<rect x="1141" y="254" width="1" height="4"/>
<rect x="1140" y="244" width="3" height="10"/>
<rect x="1141" y="245" width="1" height="8" fill="#fff"/>
<rect x="1145" y="218" width="1" height="4"/>
<rect x="1145" y="244" width="1" height="1"/>
<rect x="1144" y="222" width="3" height="22"/>
<rect x="1145" y="223" width="1" height="20" fill="#fff"/>
<rect x="1149" y="213" width="1" height="23"/>
<rect x="1148" y="221" width="3" height="5"/>
<rect x="1152" y="199" width="3" height="22"/>
<rect x="1153" y="200" width="1" height="20" fill="#fff"/>
<rect x="1157" y="192" width="1" height="3"/>
<rect x="1157" y="198" width="1" height="7"/>
<rect x="1156" y="195" width="3" height="3"/>
<rect x="1157" y="196" width="1" height="1" fill="#fff"/>
<rect x="1161" y="188" width="1" height="22"/>
<rect x="1160" y="197" width="3" height="4"/>
<rect x="1165" y="183" width="1" height="28"/>
<rect x="1164" y="197" width="3" height="8"/>
</g>
<path d="M1.1,145.4 L4.4,158.6 L9.9,187.2 L15.4,207.0 L18.7,222.4 L20.9,237.8 L24.2,257.6 L27.5,279.6 L31.9,306.0 L35.2,323.6 L41.2,349.0 L48.4,378.0 L55.7,409.6 L63.0,438.6 L70.2,462.9 L74.8,480.0 L81.4,496.5 L88.0,508.6 L95.7,521.8 L103.4,529.0 L110.0,531.0 L116.0,530.5 L121.3,526.0 L128.3,521.0 L134.5,511.0 L144.4,498.8 L152.6,478.7 L156.6,469.5 L161.9,464.2 L169.8,461.6 L176.4,462.9 L181.7,460.3 L186.9,455.0 L192.2,448.4 L197.5,443.1 L202.8,439.2 L209.4,429.9 L216.0,419.4 L221.2,411.5 L226.5,400.9 L231.8,389.0 L237.1,377.2 L242.3,370.0 L247.9,358.2 L254.5,348.9 L261.1,341.0 L267.7,331.8 L274.3,321.2 L280.9,310.7 L286.2,302.8 L289.6,298.1 L294.2,295.8 L300.4,293.5 L305.0,290.4 L308.1,288.1 L311.2,284.3 L315.8,279.6 L318.9,275.8 L322.7,271.2 L325.8,267.3 L328.9,263.5 L332.0,259.2 L335.0,256.6 L338.1,254.2 L340.0,254.4 L344.5,254.4 L348.4,256.4 L352.4,260.9 L356.9,261.4 L361.9,263.4 L366.4,261.9 L370.9,262.0 L374.3,263.1 L377.1,264.2 L385.5,264.2 L389.5,262.0 L396.2,258.6 L401.8,258.0 L407.1,257.1 L413.2,254.1 L419.2,251.6 L425.3,248.6 L431.3,243.2 L437.4,237.1 L443.4,229.9 L449.5,222.6 L455.5,215.3 L460.3,209.3 L464.9,203.2 L470.0,195.0 L477.4,180.4 L483.0,170.0 L489.8,160.0 L495.8,151.6 L503.1,143.2 L510.3,133.5 L517.6,125.0 L525.0,117.8 L528.3,110.2 L535.5,102.9 L542.8,98.1 L550.0,99.3 L557.3,102.9 L564.6,106.6 L571.8,109.0 L581.1,108.4 L588.4,106.5 L595.7,107.2 L602.9,118.1 L610.2,130.2 L617.4,137.4 L624.7,145.9 L632.0,159.2 L639.2,173.7 L646.5,178.6 L653.7,181.0 L661.0,185.8 L668.3,190.7 L675.5,198.0 L682.8,204.0 L690.0,205.2 L697.3,202.8 L704.6,198.0 L711.8,193.1 L718.5,190.0 L724.6,184.6 L730.8,181.6 L737.0,181.6 L743.1,183.1 L749.3,187.0 L755.4,192.3 L760.1,199.3 L764.7,208.5 L769.3,214.7 L773.9,219.3 L778.5,222.4 L783.2,225.5 L787.8,227.8 L792.4,228.5 L798.6,228.8 L804.7,230.1 L810.9,229.3 L817.0,227.0 L823.2,223.9 L829.4,221.6 L835.5,220.1 L841.7,217.8 L847.8,217.8 L854.0,217.0 L860.1,218.5 L866.3,221.6 L872.5,223.1 L877.2,224.3 L884.5,220.7 L891.7,217.8 L898.9,213.5 L906.1,207.7 L913.4,204.1 L920.6,202.6 L927.8,202.2 L933.6,202.6 L939.4,205.5 L945.2,209.2 L951.0,214.2 L956.7,217.8 L962.5,219.3 L968.3,221.4 L974.1,224.3 L979.9,228.7 L985.7,233.7 L991.4,239.5 L997.2,241.2 L1003.0,241.7 L1008.8,241.7 L1014.6,242.1 L1020.4,242.4 L1026.1,243.1 L1031.9,241.0 L1037.7,237.3 L1043.5,233.0 L1046.0,231.7 L1052.1,226.9 L1058.2,222.0 L1064.2,219.0 L1070.3,217.2 L1076.3,214.2 L1082.4,213.0 L1088.4,211.7 L1094.5,210.5 L1100.5,209.3 L1106.6,208.7 L1111.4,206.9 L1117.4,208.1 L1122.3,206.9 L1127.1,206.3 L1130.8,207.5 L1134.4,212.4 L1138.0,219.6 L1141.6,224.5 L1146.5,228.1 L1151.3,230.5 L1156.2,235.3 L1161.0,239.0 L1165.2,242.6" fill="none" stroke="#1e1e8c" stroke-width="1" stroke-linejoin="round"/>
<path d="M1.8,248.8 L5.5,273.0 L8.8,297.2 L12.1,328.0 L16.9,368.4 L23.0,409.6 L26.6,426.5 L31.5,448.3 L36.3,472.5 L42.4,499.2 L48.4,521.0 L54.0,540.0 L59.4,550.4 L66.0,564.7 L72.6,573.5 L79.2,574.6 L88.0,578.5 L92.0,577.0 L96.9,572.0 L100.0,567.3 L105.0,558.0 L110.0,549.3 L118.0,530.0 L126.2,512.0 L134.5,493.9 L141.0,472.4 L145.2,452.6 L150.0,445.8 L156.6,447.1 L165.8,452.3 L172.4,445.8 L179.0,435.2 L185.6,426.0 L193.5,415.4 L200.1,402.2 L206.7,391.7 L212.0,382.4 L217.8,361.7 L223.8,344.9 L228.0,337.0 L234.7,330.0 L240.0,321.2 L245.3,316.0 L250.6,309.4 L255.8,300.1 L261.1,292.2 L266.4,284.3 L271.7,277.7 L276.9,269.8 L283.5,269.5 L288.8,270.2 L292.7,268.1 L296.5,265.0 L300.4,260.4 L305.0,256.6 L308.1,253.5 L311.2,248.9 L314.3,243.5 L317.3,238.8 L320.4,235.8 L325.0,235.0 L329.6,235.8 L334.3,239.6 L338.1,245.8 L341.2,251.2 L344.5,253.5 L349.6,256.4 L353.5,257.2 L356.9,256.4 L360.2,258.6 L363.6,261.4 L368.1,262.0 L372.6,262.5 L376.5,260.3 L380.5,256.9 L385.0,254.1 L388.9,253.0 L393.4,255.2 L397.3,254.4 L401.8,251.0 L407.1,245.6 L413.2,242.0 L419.2,235.9 L425.3,227.4 L431.3,219.0 L437.4,209.3 L443.4,202.0 L449.5,192.4 L454.3,182.7 L459.1,171.8 L465.0,160.0 L471.6,144.4 L481.3,126.2 L487.0,119.0 L493.4,114.1 L503.1,103.2 L509.1,98.4 L512.8,89.9 L517.6,82.7 L521.2,77.8 L525.0,77.2 L528.3,75.1 L535.5,82.4 L542.8,94.5 L550.0,100.5 L557.3,104.1 L564.6,106.6 L571.8,105.3 L581.1,101.1 L586.0,106.0 L590.8,122.9 L598.1,139.9 L605.3,150.6 L610.6,158.6 L614.5,167.8 L618.5,183.6 L623.8,196.8 L630.4,200.8 L639.6,200.8 L647.5,203.4 L655.4,207.4 L662.0,215.3 L670.0,220.5 L676.6,219.3 L684.5,215.3 L692.4,207.4 L700.0,196.2 L706.2,182.3 L712.3,177.7 L718.5,176.2 L724.6,177.7 L730.8,180.0 L737.0,183.1 L741.6,188.5 L746.2,197.7 L750.8,210.1 L755.4,220.8 L760.1,230.1 L764.7,236.2 L769.3,239.3 L773.9,240.9 L780.1,240.9 L786.2,239.3 L792.4,237.8 L798.6,233.2 L804.7,230.1 L810.9,228.5 L817.0,223.9 L823.2,217.8 L829.4,215.4 L835.5,215.4 L841.7,216.2 L847.8,217.8 L854.0,221.6 L860.1,225.5 L866.3,226.2 L872.5,223.9 L875.8,220.0 L881.6,215.7 L887.3,210.6 L893.1,203.4 L898.9,198.3 L904.7,196.4 L910.5,196.1 L916.3,196.4 L922.0,199.0 L927.8,203.4 L933.6,209.2 L937.9,216.4 L942.3,222.2 L948.1,224.3 L953.9,225.8 L959.6,228.7 L965.4,235.2 L971.2,242.4 L977.0,249.6 L982.8,251.8 L988.5,249.6 L994.3,247.5 L1000.1,247.5 L1011.7,247.5 L1017.5,245.3 L1023.2,238.1 L1029.0,230.8 L1034.8,226.5 L1040.0,222.0 L1046.0,214.8 L1052.1,209.9 L1058.2,206.9 L1064.2,205.7 L1070.3,205.1 L1076.3,204.5 L1082.4,203.9 L1088.4,203.3 L1094.5,202.7 L1100.5,202.1 L1106.6,203.3 L1111.4,202.7 L1116.2,203.3 L1119.9,208.7 L1123.5,218.4 L1127.1,226.9 L1130.8,232.9 L1135.6,238.4 L1140.4,240.8 L1145.3,246.2 L1150.1,252.3 L1155.0,256.5 L1159.8,255.9 L1164.6,254.1" fill="none" stroke="#b42828" stroke-width="1" stroke-linejoin="round"/>
<path d="M1.2,372.0 L4.8,404.7 L8.5,441.0 L13.2,478.0 L18.2,496.0 L22.0,515.0 L25.0,532.0 L28.6,546.0 L30.3,560.0 L35.1,574.5 L40.0,584.2 L46.0,590.3 L52.0,595.1 L56.9,600.0 L61.7,604.8 L66.0,604.8 L70.2,597.5 L75.0,595.1 L79.9,595.1 L84.7,587.8 L89.6,578.2 L95.6,567.3 L99.3,560.0 L104.8,535.0 L109.0,521.0 L113.0,509.0 L116.2,502.0 L121.3,486.0 L125.0,474.0 L129.5,454.3 L132.0,440.0 L135.6,423.0 L140.4,418.0 L145.3,426.0 L150.0,431.2 L157.3,443.1 L164.5,436.5 L171.1,420.7 L177.7,415.4 L184.3,403.5 L189.6,393.0 L194.9,381.1 L200.1,369.2 L204.7,360.0 L206.9,354.8 L210.0,340.0 L212.3,325.5 L215.4,317.8 L218.5,316.2 L221.6,315.0 L225.4,308.5 L229.3,301.6 L233.1,300.0 L238.5,295.4 L241.6,293.9 L246.2,286.2 L250.0,280.8 L253.2,275.1 L258.5,263.2 L262.4,254.0 L267.7,252.0 L273.0,252.6 L278.3,259.2 L282.2,261.9 L287.5,257.9 L289.6,255.8 L294.2,251.2 L298.9,245.0 L303.5,235.8 L307.0,226.0 L311.2,219.9 L317.9,218.9 L322.0,226.0 L326.6,235.0 L328.9,241.9 L331.2,248.9 L333.5,255.0 L337.3,259.6 L340.0,262.5 L344.5,262.0 L349.6,259.7 L352.9,262.0 L356.9,266.5 L360.8,267.3 L364.7,265.4 L368.1,262.0 L371.5,257.5 L374.9,254.1 L379.3,251.3 L383.8,252.4 L387.2,253.5 L390.6,251.9 L395.1,246.8 L401.0,239.5 L407.1,232.3 L413.2,222.6 L419.2,212.9 L424.0,204.5 L428.9,196.0 L433.7,191.1 L438.6,183.9 L442.2,176.6 L444.6,168.2 L448.2,157.3 L452.3,146.8 L458.3,132.3 L464.4,117.8 L470.4,106.9 L476.5,100.8 L482.5,97.8 L488.6,92.4 L494.6,87.5 L500.7,82.7 L505.5,75.4 L509.1,66.9 L514.0,61.5 L518.8,63.3 L522.4,65.7 L525.0,70.6 L533.1,84.8 L540.4,100.0 L547.3,110.8 L554.5,114.5 L561.8,109.6 L569.0,103.6 L576.3,102.4 L581.1,120.5 L586.0,144.7 L590.8,156.8 L598.1,166.5 L602.9,175.0 L607.8,192.0 L612.6,212.0 L617.4,223.0 L624.7,221.5 L632.0,214.5 L639.6,212.7 L646.2,215.3 L652.8,220.6 L658.1,227.2 L664.7,229.0 L670.0,225.9 L675.2,218.0 L680.5,207.4 L685.8,196.8 L692.4,186.3 L699.0,175.7 L705.8,165.0 L709.6,164.5 L714.9,167.1 L718.5,171.6 L724.6,177.7 L730.8,183.9 L737.0,196.2 L741.6,214.7 L746.2,236.2 L750.8,248.6 L755.4,253.2 L760.1,254.7 L766.2,254.7 L770.8,248.6 L777.0,243.9 L783.2,242.4 L789.3,236.2 L795.5,230.1 L801.6,225.5 L807.8,217.8 L814.0,211.6 L820.1,210.1 L826.3,210.1 L832.4,210.8 L838.6,214.7 L844.8,219.3 L850.9,227.0 L855.5,229.3 L860.1,228.5 L866.3,222.4 L870.0,216.4 L875.8,207.7 L881.6,199.0 L887.3,191.1 L893.1,188.9 L898.9,188.2 L904.7,191.1 L910.5,192.5 L916.3,197.6 L922.0,206.3 L927.8,217.8 L932.2,226.5 L936.5,232.3 L942.3,233.7 L948.1,234.5 L953.9,238.1 L959.6,248.2 L965.4,256.9 L971.2,261.9 L977.0,262.6 L982.8,258.3 L988.5,251.1 L994.3,248.2 L1000.1,247.5 L1005.9,246.7 L1011.7,243.9 L1017.5,236.6 L1023.2,225.1 L1029.0,217.8 L1034.8,209.2 L1040.6,201.9 L1046.0,198.4 L1052.1,197.2 L1058.2,196.6 L1064.2,201.5 L1070.3,203.9 L1076.3,199.6 L1082.4,199.0 L1088.4,200.3 L1094.5,200.9 L1100.5,202.1 L1106.6,202.7 L1110.2,205.1 L1112.6,213.6 L1115.0,224.5 L1117.4,235.3 L1119.9,243.8 L1123.5,249.9 L1128.3,252.3 L1133.2,254.1 L1138.0,257.1 L1142.9,264.4 L1147.7,268.6 L1151.3,268.0 L1156.2,262.0 L1161.0,253.5 L1165.2,243.2" fill="none" stroke="#3cc83c" stroke-width="1" stroke-linejoin="round"/>
<path d="M0.0,759.0 L1.3,760.2 L6.4,763.7 L9.6,766.1 L13.2,768.2 L17.3,760.2 L20.9,762.1 L25.7,757.3 L32.1,758.4 L38.6,758.4 L43.4,758.4 L45.8,760.2 L49.8,752.5 L53.8,749.3 L57.0,743.6 L61.0,749.3 L64.3,746.8 L69.1,744.4 L73.9,738.8 L78.7,734.8 L84.3,731.6 L89.2,724.4 L92.4,723.2 L96.4,724.4 L100.9,725.2 L105.2,716.8 L109.6,719.1 L114.1,714.7 L118.9,710.7 L122.1,709.1 L124.5,709.9 L126.9,714.7 L129.3,724.4 L132.5,730.0 L136.5,730.8 L141.0,740.4 L145.4,732.4 L150.2,726.0 L154.2,723.6 L157.4,720.3 L161.4,723.6 L165.5,722.0 L168.7,721.1 L173.5,723.6 L177.5,716.8 L181.5,715.2 L185.5,716.3 L189.6,718.7 L193.6,709.9 L196.8,709.4 L198.2,708.3 L201.4,705.9 L205.4,722.3 L209.5,722.3 L213.5,716.3 L216.7,715.2 L221.5,721.1 L225.5,716.3 L229.5,721.1 L233.6,716.3 L237.6,718.4 L241.6,716.8 L245.6,711.5 L249.6,716.3 L252.8,716.3 L256.8,723.6 L261.2,730.3 L264.9,725.2 L268.9,728.1 L272.9,720.3 L278.5,720.3 L285.0,721.1 L289.0,713.9 L293.0,713.1 L297.0,713.4 L301.0,717.9 L305.5,722.8 L309.4,742.0 L313.1,736.1 L317.1,743.2 L321.9,737.2 L325.9,735.6 L329.9,734.5 L334.0,732.4 L337.2,734.0 L341.2,741.2 L345.2,736.7 L349.5,736.1 L354.0,728.4 L357.2,727.1 L361.3,727.6 L365.3,731.3 L369.3,732.4 L373.3,732.4 L378.1,726.0 L382.1,723.6 L386.2,725.2 L390.2,721.9 L397.2,719.1 L403.7,713.1 L407.7,711.5 L412.5,709.4 L416.5,709.1 L420.5,707.5 L424.5,706.2 L429.4,697.5 L433.4,695.9 L438.2,695.4 L443.8,694.6 L447.8,690.1 L451.8,689.5 L455.9,691.4 L458.3,692.7 L460.7,691.4 L464.7,705.9 L469.0,714.2 L473.2,708.3 L477.6,704.0 L481.2,717.1 L486.1,714.2 L490.4,707.5 L494.4,704.6 L497.3,705.1 L500.8,718.7 L504.9,717.9 L508.9,726.0 L513.4,735.6 L517.7,742.0 L521.4,745.2 L525.7,740.4 L529.0,740.4 L533.3,733.5 L537.0,738.0 L541.0,739.6 L545.0,730.8 L549.4,727.6 L553.1,728.4 L557.1,727.6 L561.1,730.8 L565.1,742.8 L569.1,754.1 L573.4,758.9 L577.9,754.9 L582.0,747.3 L586.0,747.3 L589.0,748.5 L593.4,762.1 L597.5,757.3 L601.1,758.6 L605.6,746.8 L609.4,744.8 L613.1,736.1 L617.1,738.0 L621.1,740.4 L625.2,742.8 L629.2,746.8 L633.2,736.1 L637.2,744.8 L641.2,746.4 L645.2,746.8 L649.3,744.8 L653.3,738.8 L657.3,735.6 L661.3,732.9 L665.3,730.8 L669.3,724.4 L673.4,730.3 L677.4,725.2 L681.4,722.3 L685.4,721.1 L689.4,721.1 L693.4,720.3 L697.5,732.4 L701.5,735.1 L705.5,737.2 L709.5,737.2 L713.5,738.0 L717.5,742.8 L721.5,752.1 L725.6,752.5 L729.6,762.1 L733.6,760.8 L737.6,757.0 L741.6,750.9 L745.6,744.8 L749.7,747.3 L753.7,741.2 L757.7,736.4 L761.7,736.4 L765.7,736.7 L769.7,738.0 L773.8,734.8 L777.8,731.6 L781.8,731.3 L785.6,729.2 L789.3,736.1 L793.7,726.0 L797.3,717.9 L801.7,725.5 L805.4,732.4 L809.7,729.2 L813.7,734.0 L817.8,732.4 L822.1,737.2 L825.8,735.6 L829.8,742.0 L833.8,745.2 L837.8,739.6 L841.0,740.9 L845.1,734.0 L849.1,728.7 L853.1,727.1 L857.9,727.1 L861.9,720.7 L865.1,716.3 L869.2,716.3 L872.9,715.2 L877.2,722.8 L881.2,726.0 L885.2,728.7 L889.2,734.0 L893.3,730.8 L897.3,729.7 L901.3,741.2 L905.3,742.5 L909.3,747.3 L913.3,752.5 L917.3,759.2 L921.4,749.3 L925.4,740.4 L929.4,738.0 L933.4,742.0 L937.4,746.4 L941.4,750.9 L945.5,752.1 L949.5,758.1 L953.5,758.1 L957.5,750.1 L961.5,746.4 L965.5,736.1 L969.6,729.2 L973.6,732.9 L977.0,735.0 L981.4,736.7 L985.4,738.0 L989.5,735.6 L993.0,741.2 L996.7,728.4 L1000.7,725.2 L1005.5,719.1 L1009.5,720.3 L1013.6,719.5 L1017.6,712.3 L1021.6,709.9 L1025.6,717.9 L1028.8,717.1 L1033.6,723.6 L1037.7,722.8 L1040.9,721.6 L1045.4,728.1 L1049.2,735.1 L1053.4,734.0 L1057.2,724.8 L1061.4,725.2 L1065.0,723.2 L1069.5,731.6 L1075.4,727.1 L1081.0,736.7 L1085.8,730.0 L1090.7,727.6 L1093.9,728.4 L1098.7,740.4 L1101.9,752.5 L1105.4,766.1 L1109.1,753.3 L1113.2,746.0 L1117.6,740.4 L1122.0,741.5 L1126.0,744.1 L1129.5,751.7 L1133.2,748.0 L1137.3,738.0 L1142.1,733.5 L1146.1,728.7 L1150.1,728.7 L1154.1,723.2 L1157.3,721.1 L1161.3,723.6 L1164.6,725.2" fill="none" stroke="#b03232" stroke-width="1" stroke-linejoin="round"/>
<path d="M0.0,850.5 L0.8,851.0 L6.4,854.3 L12.9,858.3 L20.9,862.3 L27.3,862.6 L33.7,862.0 L40.2,860.7 L48.2,858.3 L56.2,854.3 L64.3,850.2 L72.3,845.4 L80.3,839.8 L88.4,833.4 L96.4,827.3 L104.4,821.3 L112.4,816.0 L118.9,812.5 L125.3,809.0 L131.7,806.1 L138.2,804.8 L144.6,804.5 L152.6,804.8 L160.6,804.8 L168.7,803.7 L176.7,803.2 L184.7,801.6 L192.8,799.3 L197.0,798.8 L201.4,798.2 L207.9,797.0 L219.1,796.2 L230.3,796.2 L243.2,796.2 L252.8,795.9 L262.5,797.0 L272.1,798.7 L281.7,799.8 L291.4,800.3 L299.4,799.5 L307.5,800.3 L315.5,803.5 L323.5,805.6 L331.5,807.5 L339.6,809.4 L347.6,810.7 L355.6,811.5 L363.7,812.0 L371.7,812.0 L379.7,811.0 L387.8,810.4 L390.0,810.4 L399.6,808.8 L409.3,807.2 L418.9,805.6 L428.6,803.0 L438.2,800.7 L447.8,798.7 L457.5,797.5 L467.1,797.0 L476.7,797.0 L486.4,797.0 L496.0,797.0 L505.7,797.5 L515.3,800.3 L524.9,803.5 L534.6,806.2 L544.2,809.1 L553.9,810.4 L563.5,811.0 L569.9,812.3 L576.3,814.2 L582.8,816.3 L585.0,817.1 L593.0,820.3 L601.1,822.8 L609.1,824.4 L617.1,823.9 L625.2,822.8 L633.2,822.3 L641.2,822.8 L649.3,823.2 L657.3,822.0 L665.3,820.0 L675.0,817.4 L684.6,814.7 L694.2,812.3 L703.9,811.0 L713.5,811.5 L723.2,813.1 L732.8,815.5 L742.4,817.9 L748.9,820.0 L758.5,820.0 L768.1,819.1 L777.8,817.1 L785.0,816.5 L789.6,816.3 L799.3,814.2 L808.9,812.6 L818.6,812.0 L828.2,812.6 L837.8,813.1 L847.5,813.1 L857.1,812.3 L866.7,811.0 L876.4,810.4 L886.0,809.9 L895.7,810.4 L905.3,810.7 L914.9,811.5 L924.6,813.6 L934.2,814.7 L943.9,816.3 L953.5,817.9 L963.1,818.7 L972.8,817.9 L980.0,817.0 L984.6,813.9 L994.3,813.6 L1003.9,812.6 L1013.6,811.5 L1023.2,810.4 L1032.8,809.1 L1042.5,808.3 L1052.1,808.8 L1061.7,809.4 L1071.4,809.9 L1081.0,810.4 L1090.7,810.4 L1100.3,810.7 L1109.9,813.9 L1119.6,815.8 L1129.2,817.9 L1138.9,817.9 L1148.5,817.1 L1156.5,815.8 L1164.6,813.6" fill="none" stroke="#000000" stroke-width="1" stroke-linejoin="round"/>
<path d="M0.0,864.7 L6.4,865.2 L13.7,868.4 L20.9,867.1 L26.5,864.7 L32.1,861.5 L38.6,857.5 L46.6,853.5 L53.0,848.6 L59.4,843.8 L65.9,840.6 L72.3,835.8 L80.3,830.2 L86.7,824.5 L93.2,818.9 L99.6,814.9 L106.0,810.6 L112.4,806.1 L118.9,802.0 L125.3,799.6 L131.7,801.2 L138.2,803.2 L144.6,805.7 L152.6,804.5 L160.6,802.9 L168.7,802.0 L176.7,800.9 L184.7,799.3 L192.8,797.2 L196.0,796.0 L201.4,794.3 L207.9,795.9 L214.3,795.4 L220.7,795.9 L230.3,796.2 L243.2,795.9 L252.8,795.9 L259.3,797.9 L265.7,800.3 L272.1,801.4 L278.5,800.7 L286.6,801.1 L293.0,799.8 L301.0,799.8 L307.5,801.1 L313.9,805.6 L318.7,808.8 L325.1,810.4 L331.5,811.0 L339.6,811.0 L347.6,811.5 L355.6,812.0 L363.7,812.0 L371.7,811.5 L378.1,810.4 L384.6,809.1 L390.0,809.1 L399.6,806.7 L409.3,804.6 L418.9,803.5 L428.6,801.1 L438.2,798.7 L447.8,796.6 L457.5,795.4 L463.9,795.9 L473.5,797.0 L483.2,798.2 L491.2,797.5 L499.2,796.6 L505.7,797.5 L512.1,801.9 L518.5,805.9 L526.5,809.9 L534.6,811.0 L542.6,811.0 L550.6,811.0 L558.7,811.0 L565.1,812.0 L569.9,815.8 L576.3,820.7 L582.8,822.0 L585.0,822.3 L591.4,823.6 L597.9,826.4 L602.7,828.1 L610.7,826.0 L617.1,823.6 L626.8,822.3 L636.4,822.0 L646.0,823.2 L654.1,821.1 L662.1,818.4 L671.7,814.7 L681.4,811.5 L689.4,809.4 L697.5,808.8 L705.5,810.4 L713.5,811.5 L719.9,812.6 L726.4,816.8 L732.8,820.3 L739.2,823.2 L745.6,823.2 L753.7,822.0 L761.7,819.5 L769.7,817.1 L777.8,815.2 L785.0,814.5 L789.6,814.2 L799.3,812.3 L808.9,811.0 L818.6,811.5 L828.2,812.6 L837.8,813.9 L847.5,813.9 L857.1,812.0 L865.1,809.9 L873.2,808.8 L882.8,808.8 L892.4,809.9 L902.1,810.7 L911.7,812.3 L918.2,816.3 L924.6,817.1 L934.2,816.3 L943.9,817.4 L953.5,820.0 L963.1,819.5 L972.8,817.1 L980.0,816.5 L984.6,816.3 L994.3,815.2 L1003.9,813.1 L1013.6,810.7 L1023.2,808.3 L1032.8,807.2 L1042.5,807.5 L1052.1,809.1 L1061.7,809.9 L1071.4,809.9 L1081.0,809.9 L1090.7,810.4 L1100.3,811.5 L1105.1,816.3 L1109.9,818.7 L1119.6,819.5 L1129.2,820.3 L1138.9,819.1 L1148.5,816.3 L1156.5,813.1 L1164.6,811.5" fill="none" stroke="#b83232" stroke-width="1" stroke-linejoin="round"/>
<path d="M1021.6,709.9 L1160.5,744.4" fill="none" stroke="#000000" stroke-width="1.2" stroke-linejoin="round"/>
<g fill="#2e8b2e" shape-rendering="crispEdges">
<rect x="1" y="813" width="1" height="14"/>
<rect x="5" y="813" width="1" height="11"/>
<rect x="9" y="813" width="1" height="10"/>
<rect x="13" y="813" width="1" height="9"/>
<rect x="17" y="813" width="1" height="6"/>
<rect x="21" y="813" width="1" height="5"/>
<rect x="25" y="813" width="1" height="2"/>
<rect x="41" y="810" width="1" height="2"/>
<rect x="45" y="808" width="1" height="4"/>
<rect x="49" y="808" width="1" height="4"/>
<rect x="53" y="806" width="1" height="6"/>
<rect x="57" y="805" width="1" height="7"/>
<rect x="61" y="805" width="1" height="7"/>
<rect x="65" y="805" width="1" height="7"/>
<rect x="69" y="804" width="1" height="8"/>
<rect x="73" y="804" width="1" height="8"/>
<rect x="77" y="803" width="1" height="9"/>
<rect x="81" y="802" width="1" height="10"/>
<rect x="85" y="800" width="1" height="12"/>
<rect x="89" y="801" width="1" height="11"/>
<rect x="93" y="801" width="1" height="11"/>
<rect x="97" y="802" width="1" height="10"/>
<rect x="101" y="803" width="1" height="9"/>
<rect x="105" y="802" width="1" height="10"/>
<rect x="109" y="803" width="1" height="9"/>
<rect x="113" y="804" width="1" height="8"/>
<rect x="117" y="802" width="1" height="10"/>
<rect x="121" y="802" width="1" height="10"/>
<rect x="125" y="804" width="1" height="8"/>
<rect x="129" y="806" width="1" height="6"/>
<rect x="133" y="809" width="1" height="3"/>
<rect x="181" y="810" width="1" height="2"/>
<rect x="185" y="811" width="1" height="1"/>
<rect x="189" y="811" width="1" height="1"/>
<rect x="193" y="810" width="1" height="2"/>
<rect x="197" y="809" width="1" height="3"/>
<rect x="201" y="809" width="1" height="3"/>
<rect x="205" y="811" width="1" height="1"/>
<rect x="261" y="813" width="1" height="2"/>
<rect x="265" y="813" width="1" height="3"/>
<rect x="269" y="813" width="1" height="3"/>
<rect x="273" y="813" width="1" height="2"/>
<rect x="277" y="813" width="1" height="1"/>
<rect x="309" y="813" width="1" height="1"/>
<rect x="313" y="813" width="1" height="3"/>
<rect x="317" y="813" width="1" height="4"/>
<rect x="321" y="813" width="1" height="4"/>
<rect x="325" y="813" width="1" height="4"/>
<rect x="329" y="813" width="1" height="4"/>
<rect x="333" y="813" width="1" height="3"/>
<rect x="337" y="813" width="1" height="2"/>
<rect x="341" y="813" width="1" height="1"/>
<rect x="385" y="811" width="1" height="1"/>
<rect x="389" y="811" width="1" height="1"/>
<rect x="393" y="810" width="1" height="2"/>
<rect x="397" y="810" width="1" height="2"/>
<rect x="401" y="810" width="1" height="2"/>
<rect x="405" y="810" width="1" height="2"/>
<rect x="409" y="809" width="1" height="3"/>
<rect x="413" y="810" width="1" height="2"/>
<rect x="417" y="810" width="1" height="2"/>
<rect x="421" y="810" width="1" height="2"/>
<rect x="425" y="810" width="1" height="2"/>
<rect x="429" y="810" width="1" height="2"/>
<rect x="433" y="810" width="1" height="2"/>
<rect x="437" y="810" width="1" height="2"/>
<rect x="441" y="810" width="1" height="2"/>
<rect x="445" y="810" width="1" height="2"/>
<rect x="449" y="810" width="1" height="2"/>
<rect x="453" y="810" width="1" height="2"/>
<rect x="457" y="810" width="1" height="2"/>
<rect x="461" y="810" width="1" height="2"/>
<rect x="509" y="813" width="1" height="2"/>
<rect x="513" y="813" width="1" height="3"/>
<rect x="517" y="813" width="1" height="4"/>
<rect x="521" y="813" width="1" height="5"/>
<rect x="525" y="813" width="1" height="6"/>
<rect x="529" y="813" width="1" height="6"/>
<rect x="533" y="813" width="1" height="5"/>
<rect x="537" y="813" width="1" height="4"/>
<rect x="541" y="813" width="1" height="3"/>
<rect x="545" y="813" width="1" height="2"/>
<rect x="569" y="813" width="1" height="3"/>
<rect x="573" y="813" width="1" height="5"/>
<rect x="577" y="813" width="1" height="6"/>
<rect x="581" y="813" width="1" height="6"/>
<rect x="585" y="813" width="1" height="5"/>
<rect x="589" y="813" width="1" height="4"/>
<rect x="593" y="813" width="1" height="4"/>
<rect x="597" y="813" width="1" height="5"/>
<rect x="601" y="813" width="1" height="5"/>
<rect x="605" y="813" width="1" height="4"/>
<rect x="609" y="813" width="1" height="2"/>
<rect x="653" y="811" width="1" height="1"/>
<rect x="657" y="810" width="1" height="2"/>
<rect x="661" y="810" width="1" height="2"/>
<rect x="665" y="809" width="1" height="3"/>
<rect x="669" y="809" width="1" height="3"/>
<rect x="673" y="808" width="1" height="4"/>
<rect x="677" y="808" width="1" height="4"/>
<rect x="681" y="808" width="1" height="4"/>
<rect x="685" y="808" width="1" height="4"/>
<rect x="689" y="808" width="1" height="4"/>
<rect x="693" y="809" width="1" height="3"/>
<rect x="697" y="809" width="1" height="3"/>
<rect x="701" y="810" width="1" height="2"/>
<rect x="725" y="813" width="1" height="3"/>
<rect x="729" y="813" width="1" height="4"/>
<rect x="733" y="813" width="1" height="5"/>
<rect x="737" y="813" width="1" height="6"/>
<rect x="741" y="813" width="1" height="6"/>
<rect x="745" y="813" width="1" height="4"/>
<rect x="749" y="813" width="1" height="3"/>
<rect x="753" y="813" width="1" height="2"/>
<rect x="769" y="810" width="1" height="2"/>
<rect x="773" y="810" width="1" height="2"/>
<rect x="777" y="810" width="1" height="2"/>
<rect x="781" y="810" width="1" height="2"/>
<rect x="785" y="810" width="1" height="2"/>
<rect x="789" y="810" width="1" height="2"/>
<rect x="793" y="810" width="1" height="2"/>
<rect x="797" y="810" width="1" height="2"/>
<rect x="801" y="810" width="1" height="2"/>
<rect x="805" y="810" width="1" height="2"/>
<rect x="809" y="810" width="1" height="2"/>
<rect x="865" y="811" width="1" height="1"/>
<rect x="869" y="810" width="1" height="2"/>
<rect x="873" y="810" width="1" height="2"/>
<rect x="877" y="810" width="1" height="2"/>
<rect x="881" y="811" width="1" height="1"/>
<rect x="913" y="813" width="1" height="2"/>
<rect x="917" y="813" width="1" height="4"/>
<rect x="921" y="813" width="1" height="4"/>
<rect x="925" y="813" width="1" height="3"/>
<rect x="929" y="813" width="1" height="3"/>
<rect x="933" y="813" width="1" height="2"/>
<rect x="937" y="813" width="1" height="1"/>
<rect x="941" y="813" width="1" height="1"/>
<rect x="945" y="813" width="1" height="1"/>
<rect x="949" y="813" width="1" height="2"/>
<rect x="953" y="813" width="1" height="2"/>
<rect x="957" y="813" width="1" height="2"/>
<rect x="985" y="813" width="1" height="2"/>
<rect x="989" y="813" width="1" height="2"/>
<rect x="993" y="813" width="1" height="2"/>
<rect x="997" y="813" width="1" height="1"/>
<rect x="1017" y="811" width="1" height="1"/>
<rect x="1021" y="810" width="1" height="2"/>
<rect x="1025" y="810" width="1" height="2"/>
<rect x="1029" y="810" width="1" height="2"/>
<rect x="1033" y="810" width="1" height="2"/>
<rect x="1037" y="811" width="1" height="1"/>
<rect x="1101" y="813" width="1" height="2"/>
<rect x="1105" y="813" width="1" height="4"/>
<rect x="1109" y="813" width="1" height="5"/>
<rect x="1113" y="813" width="1" height="4"/>
<rect x="1117" y="813" width="1" height="4"/>
<rect x="1121" y="813" width="1" height="3"/>
<rect x="1125" y="813" width="1" height="3"/>
<rect x="1129" y="813" width="1" height="2"/>
<rect x="1133" y="813" width="1" height="2"/>
<rect x="1137" y="813" width="1" height="1"/>
<rect x="1153" y="810" width="1" height="2"/>
<rect x="1157" y="809" width="1" height="3"/>
<rect x="1161" y="810" width="1" height="2"/>
<rect x="1165" y="810" width="1" height="2"/>
</g>
<g fill="none" stroke-linecap="butt">
<line x1="468" y1="19.5" x2="1177" y2="75.5" stroke="#000" stroke-width="1.2"/>
<line x1="689" y1="127" x2="820.5" y2="145.8" stroke="#147373" stroke-width="2"/>
<line x1="833.5" y1="147.6" x2="1186" y2="197.8" stroke="#147373" stroke-width="2"/>
<line x1="321" y1="316" x2="1166" y2="316" stroke="#147373" stroke-width="2"/>
<line x1="1105.5" y1="342" x2="1169.5" y2="255.5" stroke="#147373" stroke-width="2"/>
<line x1="1109" y1="261" x2="1169.7" y2="176.2" stroke="#1d4a4a" stroke-width="1"/>
<line x1="0" y1="658.5" x2="1031" y2="541.3" stroke="#c81818" stroke-width="2.2"/>
<line x1="1046" y1="539.6" x2="1161.4" y2="526.5" stroke="#c81818" stroke-width="2.2"/>
</g>
<rect x="821" y="144" width="12" height="17" fill="#fff"/>
<text x="821" y="160.5" fill="#147368" font-size="22" font-weight="bold" font-family="'Liberation Sans', Arial, sans-serif">9</text>
<rect x="1032" y="534" width="13" height="18" fill="#fff"/>
<text x="1032" y="551" fill="#c81818" font-size="22" font-weight="bold" font-family="'Liberation Sans', Arial, sans-serif">1</text>

<g shape-rendering="crispEdges" fill="#000">
<rect x="1200" y="0" width="1" height="870"/>
<rect x="0" y="869" width="1245" height="1"/>
<rect x="1200" y="670" width="45" height="1"/>
<rect x="1200" y="775" width="45" height="1"/>
<rect x="0" y="812" width="1200" height="1"/>
<rect x="1200" y="50" width="6" height="1"/>
<rect x="1200" y="145" width="6" height="1"/>
<rect x="1200" y="239" width="6" height="1"/>
<rect x="1200" y="334" width="6" height="1"/>
<rect x="1200" y="429" width="6" height="1"/>
<rect x="1200" y="524" width="6" height="1"/>
<rect x="1200" y="619" width="6" height="1"/>
<rect x="1200" y="674" width="3" height="1"/>
<rect x="1200" y="681" width="3" height="1"/>
<rect x="1200" y="687" width="3" height="1"/>
<rect x="1200" y="694" width="3" height="1"/>
<rect x="1200" y="701" width="3" height="1"/>
<rect x="1200" y="707" width="6" height="1"/>
<rect x="1200" y="714" width="3" height="1"/>
<rect x="1200" y="721" width="3" height="1"/>
<rect x="1200" y="727" width="3" height="1"/>
<rect x="1200" y="734" width="3" height="1"/>
<rect x="1200" y="741" width="6" height="1"/>
<rect x="1200" y="747" width="3" height="1"/>
<rect x="1200" y="754" width="3" height="1"/>
<rect x="1200" y="761" width="3" height="1"/>
<rect x="1200" y="767" width="3" height="1"/>
<rect x="1200" y="782" width="3" height="1"/>
<rect x="1200" y="790" width="3" height="1"/>
<rect x="1200" y="797" width="3" height="1"/>
<rect x="1200" y="804" width="3" height="1"/>
<rect x="1200" y="812" width="6" height="1"/>
<rect x="1200" y="820" width="3" height="1"/>
<rect x="1200" y="827" width="3" height="1"/>
<rect x="1200" y="834" width="3" height="1"/>
<rect x="1200" y="842" width="6" height="1"/>
<rect x="1200" y="850" width="3" height="1"/>
<rect x="1200" y="857" width="3" height="1"/>
<rect x="1200" y="864" width="3" height="1"/>
<rect x="37" y="869" width="1" height="9"/>
<rect x="241" y="869" width="1" height="9"/>
<rect x="445" y="869" width="1" height="9"/>
<rect x="653" y="869" width="1" height="9"/>
<rect x="861" y="869" width="1" height="9"/>
<rect x="1065" y="869" width="1" height="9"/>
</g>
<rect x="0.5" y="2" width="145.5" height="16" fill="#fff"/><text x="1.5" y="15" fill="#000" font-size="14.6" font-weight="bold" font-family="'Liberation Sans', Arial, sans-serif" textLength="143.5" lengthAdjust="spacingAndGlyphs">MICEX LAST-Weekly</text>
<rect x="157.0" y="2" width="73.0" height="16" fill="#fff"/><text x="158" y="15" fill="#000" font-size="14.6" font-weight="bold" font-family="'Liberation Sans', Arial, sans-serif" textLength="71" lengthAdjust="spacingAndGlyphs">06/28/2014</text>
<rect x="238.0" y="2" width="80.5" height="16" fill="#fff"/><text x="239" y="15" fill="#1e7a1e" font-size="14.6" font-weight="bold" font-family="'Liberation Sans', Arial, sans-serif" textLength="78.5" lengthAdjust="spacingAndGlyphs">C=1477.320</text>
<rect x="341.5" y="2" width="81.5" height="16" fill="#fff"/><text x="342.5" y="15" fill="#1e7a1e" font-size="14.6" font-weight="bold" font-family="'Liberation Sans', Arial, sans-serif" textLength="79.5" lengthAdjust="spacingAndGlyphs">O=1474.980</text>
<rect x="430.5" y="2" width="80.0" height="16" fill="#fff"/><text x="431.5" y="15" fill="#000" font-size="14.6" font-weight="bold" font-family="'Liberation Sans', Arial, sans-serif" textLength="78" lengthAdjust="spacingAndGlyphs">H=1481.150</text>
<rect x="518.5" y="2" width="78.0" height="16" fill="#fff"/><text x="519.5" y="15" fill="#000" font-size="14.6" font-weight="bold" font-family="'Liberation Sans', Arial, sans-serif" textLength="76" lengthAdjust="spacingAndGlyphs">L=1467.990</text>
<rect x="604.0" y="2" width="117.0" height="16" fill="#fff"/><text x="605" y="15" fill="#000" font-size="14.6" font-weight="bold" font-family="'Liberation Sans', Arial, sans-serif" textLength="115" lengthAdjust="spacingAndGlyphs">ABillW_3LinesII2</text>
<rect x="729.5" y="2" width="59.5" height="16" fill="#fff"/><text x="730.5" y="15" fill="#1c1c8c" font-size="14.6" font-weight="bold" font-family="'Liberation Sans', Arial, sans-serif" textLength="57.5" lengthAdjust="spacingAndGlyphs">1392.841</text>
<rect x="797.0" y="2" width="59.5" height="16" fill="#fff"/><text x="798" y="15" fill="#b4282d" font-size="14.6" font-weight="bold" font-family="'Liberation Sans', Arial, sans-serif" textLength="57.5" lengthAdjust="spacingAndGlyphs">1372.292</text>
<rect x="865.5" y="2" width="59.5" height="16" fill="#fff"/><text x="866.5" y="15" fill="#3cc83c" font-size="14.6" font-weight="bold" font-family="'Liberation Sans', Arial, sans-serif" textLength="57.5" lengthAdjust="spacingAndGlyphs">1394.063</text>
<text x="1207.5" y="55" fill="#000" font-size="14.6" font-weight="bold" font-family="'Liberation Sans', Arial, sans-serif" textLength="50.6" lengthAdjust="spacingAndGlyphs">1800.00</text>
<text x="1207.5" y="150" fill="#000" font-size="14.6" font-weight="bold" font-family="'Liberation Sans', Arial, sans-serif" textLength="50.6" lengthAdjust="spacingAndGlyphs">1600.00</text>
<text x="1207.5" y="244" fill="#000" font-size="14.6" font-weight="bold" font-family="'Liberation Sans', Arial, sans-serif" textLength="50.6" lengthAdjust="spacingAndGlyphs">1400.00</text>
<text x="1207.5" y="339" fill="#000" font-size="14.6" font-weight="bold" font-family="'Liberation Sans', Arial, sans-serif" textLength="50.6" lengthAdjust="spacingAndGlyphs">1200.00</text>
<text x="1207.5" y="434" fill="#000" font-size="14.6" font-weight="bold" font-family="'Liberation Sans', Arial, sans-serif" textLength="50.6" lengthAdjust="spacingAndGlyphs">1000.00</text>
<text x="1207.5" y="529" fill="#000" font-size="14.6" font-weight="bold" font-family="'Liberation Sans', Arial, sans-serif" textLength="42.8" lengthAdjust="spacingAndGlyphs">800.00</text>
<text x="1207.5" y="624" fill="#000" font-size="14.6" font-weight="bold" font-family="'Liberation Sans', Arial, sans-serif" textLength="42.8" lengthAdjust="spacingAndGlyphs">600.00</text>
<text x="1207" y="712.5" fill="#000" font-size="14.6" font-weight="bold" font-family="'Liberation Sans', Arial, sans-serif" textLength="35.0" lengthAdjust="spacingAndGlyphs">70.00</text>
<text x="1207" y="746" fill="#000" font-size="14.6" font-weight="bold" font-family="'Liberation Sans', Arial, sans-serif" textLength="35.0" lengthAdjust="spacingAndGlyphs">45.00</text>
<text x="1211" y="817.5" fill="#000" font-size="14.6" font-weight="bold" font-family="'Liberation Sans', Arial, sans-serif" textLength="27.2" lengthAdjust="spacingAndGlyphs">0.00</text>
<text x="1207" y="847.5" fill="#000" font-size="14.6" font-weight="bold" font-family="'Liberation Sans', Arial, sans-serif" textLength="47.5" lengthAdjust="spacingAndGlyphs">-150.00</text>
<rect x="1.0" y="672" width="25.3" height="16" fill="#fff"/><text x="2" y="685" fill="#000" font-size="14.6" font-weight="bold" font-family="'Liberation Sans', Arial, sans-serif" textLength="23.3" lengthAdjust="spacingAndGlyphs">RSI</text>
<rect x="33.0" y="672" width="37.0" height="16" fill="#fff"/><text x="34" y="685" fill="#b4282d" font-size="14.6" font-weight="bold" font-family="'Liberation Sans', Arial, sans-serif" textLength="35.0" lengthAdjust="spacingAndGlyphs">56.58</text>
<rect x="77.0" y="672" width="37.0" height="16" fill="#fff"/><text x="78" y="685" fill="#1c1c8c" font-size="14.6" font-weight="bold" font-family="'Liberation Sans', Arial, sans-serif" textLength="35.0" lengthAdjust="spacingAndGlyphs">20.00</text>
<rect x="121.0" y="672" width="37.0" height="16" fill="#fff"/><text x="122" y="685" fill="#1c1c8c" font-size="14.6" font-weight="bold" font-family="'Liberation Sans', Arial, sans-serif" textLength="35.0" lengthAdjust="spacingAndGlyphs">80.00</text>
<rect x="1.0" y="776" width="44.0" height="16" fill="#fff"/><text x="2" y="789" fill="#000" font-size="14.6" font-weight="bold" font-family="'Liberation Sans', Arial, sans-serif" textLength="42.0" lengthAdjust="spacingAndGlyphs">MACD</text>
<rect x="53.0" y="776" width="36.2" height="16" fill="#fff"/><text x="54" y="789" fill="#b4282d" font-size="14.6" font-weight="bold" font-family="'Liberation Sans', Arial, sans-serif" textLength="34.2" lengthAdjust="spacingAndGlyphs">11.06</text>
<rect x="96.5" y="776" width="33.9" height="16" fill="#fff"/><text x="97.5" y="789" fill="#000" font-size="14.6" font-weight="bold" font-family="'Liberation Sans', Arial, sans-serif" textLength="31.9" lengthAdjust="spacingAndGlyphs">-6.99</text>
<rect x="137.5" y="776" width="37.0" height="16" fill="#fff"/><text x="138.5" y="789" fill="#1e7a1e" font-size="14.6" font-weight="bold" font-family="'Liberation Sans', Arial, sans-serif" textLength="35.0" lengthAdjust="spacingAndGlyphs">18.05</text>
<text x="38.5" y="887" fill="#000" font-size="14.6" font-weight="bold" font-family="'Liberation Sans', Arial, sans-serif" textLength="31.1" lengthAdjust="spacingAndGlyphs">2009</text>
<text x="242.5" y="887" fill="#000" font-size="14.6" font-weight="bold" font-family="'Liberation Sans', Arial, sans-serif" textLength="31.1" lengthAdjust="spacingAndGlyphs">2010</text>
<text x="446.5" y="887" fill="#000" font-size="14.6" font-weight="bold" font-family="'Liberation Sans', Arial, sans-serif" textLength="30.4" lengthAdjust="spacingAndGlyphs">2011</text>
<text x="654.5" y="887" fill="#000" font-size="14.6" font-weight="bold" font-family="'Liberation Sans', Arial, sans-serif" textLength="31.1" lengthAdjust="spacingAndGlyphs">2012</text>
<text x="862.5" y="887" fill="#000" font-size="14.6" font-weight="bold" font-family="'Liberation Sans', Arial, sans-serif" textLength="31.1" lengthAdjust="spacingAndGlyphs">2013</text>
<text x="1066.5" y="887" fill="#000" font-size="14.6" font-weight="bold" font-family="'Liberation Sans', Arial, sans-serif" textLength="31.1" lengthAdjust="spacingAndGlyphs">2014</text>
<text x="929" y="471" fill="#a0a0a0" font-size="16" font-weight="normal" font-family="'DejaVu Sans', Verdana, sans-serif" textLength="309" lengthAdjust="spacingAndGlyphs">Портал для трейдеров - ForTrader.ru</text>
<g shape-rendering="crispEdges">
<rect x="0" y="892" width="1245" height="17" fill="#f2f0ea"/>
<rect x="0" y="892" width="1245" height="1" fill="#fbfaf6"/>
<rect x="1" y="893" width="15" height="15" fill="#c3d3f3" stroke="#e8eefc" stroke-width="1"/>
<rect x="1212" y="893" width="14" height="15" fill="#c3d3f3"/>
<rect x="1229" y="893" width="15" height="15" fill="#c3d3f3"/>
<rect x="2" y="908" width="13" height="1" fill="#7f9ad0"/>
<rect x="1213" y="908" width="12" height="1" fill="#7f9ad0"/>
<rect x="1230" y="908" width="13" height="1" fill="#7f9ad0"/>
</g>
<path d="M10.5 896.5 L6 900.5 L10.5 904.5" fill="none" stroke="#2e4c8c" stroke-width="2"/>
<path d="M1234.5 896.5 L1239 900.5 L1234.5 904.5" fill="none" stroke="#2e4c8c" stroke-width="2"/>
<g fill="#8aa0cc" shape-rendering="crispEdges"><rect x="1215" y="897" width="1" height="8"/><rect x="1217" y="897" width="1" height="8"/><rect x="1219" y="897" width="1" height="8"/><rect x="1221" y="897" width="1" height="8"/></g>
</svg>
</body></html>
